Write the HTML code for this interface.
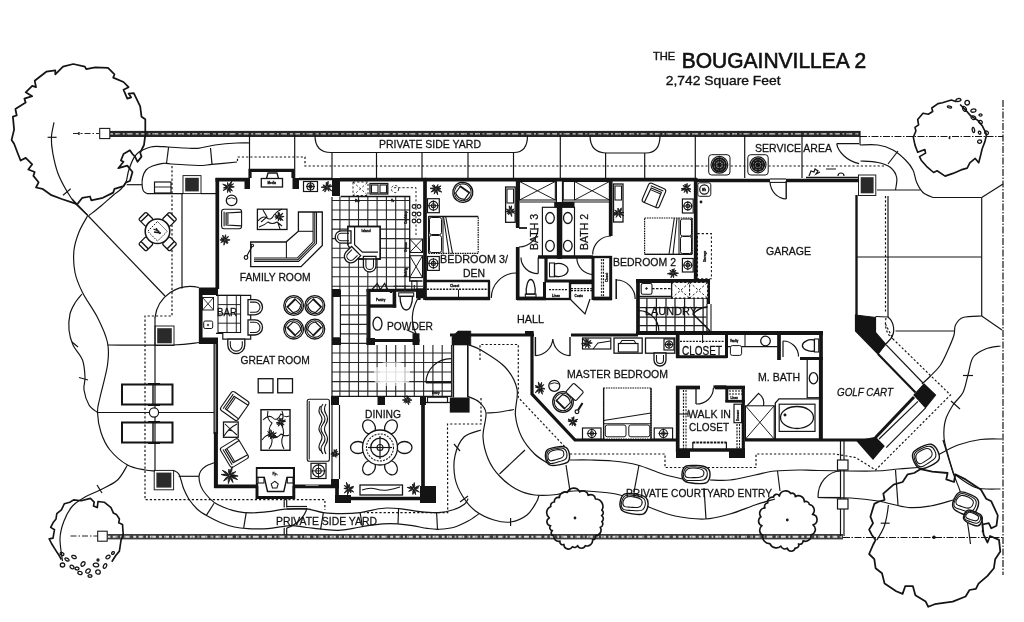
<!DOCTYPE html>
<html><head><meta charset="utf-8"><title>The Bougainvillea 2 - 2,742 Square Feet</title>
<style>
html,body{margin:0;padding:0;background:#fff;}
svg{display:block;font-family:"Liberation Sans","DejaVu Sans",sans-serif;fill:#111;}
svg text{stroke:#111;stroke-width:0.28px;}
svg{will-change:transform;}
svg line,svg path,svg polyline{stroke-linecap:butt;}
</style></head><body>
<svg width="1024" height="622" viewBox="0 0 1024 622">
<rect width="1024" height="622" fill="#fff" stroke="none"/>
<path d="M217.3 178 L217.3 289" fill="none" stroke="#141414" stroke-width="3.71" />
<path d="M215.5 179.7 L250 179.7" fill="none" stroke="#141414" stroke-width="3.71" />
<rect x="244.5" y="178" width="5.5" height="11" fill="#141414"/>
<path d="M250 178 L250 170.3 L293 170.3 L293 178" fill="none" stroke="#141414" stroke-width="3.18" />
<rect x="292.5" y="178" width="6.5" height="11" fill="#141414"/>
<line x1="299" y1="179" x2="332" y2="179" stroke="#141414" stroke-width="2.36" />
<rect x="332" y="178" width="8" height="18" fill="#141414"/>
<path d="M340 179.7 L426 179.7" fill="none" stroke="#141414" stroke-width="3.71" />
<rect x="199" y="287.5" width="19" height="7.5" fill="#141414"/>
<rect x="199" y="337.5" width="19" height="6.5" fill="#141414"/>
<path d="M200.7 288 L200.7 344" fill="none" stroke="#141414" stroke-width="3.71" />
<rect x="213.8" y="344" width="4" height="90" fill="#8a8a8a"/>
<line x1="217.1" y1="344" x2="217.1" y2="434" stroke="#141414" stroke-width="1.89" />
<line x1="214.1" y1="344" x2="214.1" y2="434" stroke="#141414" stroke-width="1.06" />
<path d="M215.9 432 L215.9 488" fill="none" stroke="#141414" stroke-width="4.03" />
<path d="M214.4 486.3 L256 486.3" fill="none" stroke="#141414" stroke-width="3.71" />
<path d="M294 486.3 L339 486.3" fill="none" stroke="#141414" stroke-width="3.71" />
<path d="M257 486 L257 468.3 L293.8 468.3 L293.8 486" fill="none" stroke="#141414" stroke-width="2.36" />
<path d="M257 486 L257 497.5 L293.8 497.5 L293.8 486" fill="none" stroke="#141414" stroke-width="2.95" />
<path d="M337 479 L337 500" fill="none" stroke="#141414" stroke-width="3.71" />
<path d="M335 498.5 L436 498.5" fill="none" stroke="#141414" stroke-width="3.71" />
<rect x="335" y="495" width="16" height="8" fill="#141414"/>
<rect x="420" y="486" width="16" height="17" fill="#141414"/>
<path d="M423 399 L423 487" fill="none" stroke="#141414" stroke-width="3.71" />
<rect x="331" y="396" width="8" height="9" fill="#141414"/>
<rect x="331" y="479" width="8" height="8" fill="#141414"/>
<path d="M425 178 L425 300" fill="none" stroke="#141414" stroke-width="3.71" />
<path d="M425 281 L490 281" fill="none" stroke="#141414" stroke-width="2.36" />
<path d="M425 298.5 L490 298.5" fill="none" stroke="#141414" stroke-width="3.71" />
<path d="M489 281 L489 300" fill="none" stroke="#141414" stroke-width="2.36" />
<path d="M425 179.7 L697 179.7" fill="none" stroke="#141414" stroke-width="3.71" />
<path d="M517.7 178 L517.7 228" fill="none" stroke="#141414" stroke-width="3.71" />
<path d="M517.7 247 L517.7 300" fill="none" stroke="#141414" stroke-width="3.71" />
<line x1="556.3" y1="181" x2="556.3" y2="202" stroke="#141414" stroke-width="1.42" />
<line x1="562.6" y1="181" x2="562.6" y2="202" stroke="#141414" stroke-width="1.42" />
<path d="M559.6 202 L559.6 259" fill="none" stroke="#141414" stroke-width="4.66" />
<path d="M610.7 178 L610.7 236" fill="none" stroke="#141414" stroke-width="3.71" />
<path d="M538 257 L593 257" fill="none" stroke="#141414" stroke-width="3.71" />
<path d="M546 257 L546 282" fill="none" stroke="#141414" stroke-width="3.18" />
<path d="M546 281 L593 281" fill="none" stroke="#141414" stroke-width="2.95" />
<path d="M593 256 L593 300" fill="none" stroke="#141414" stroke-width="2.95" />
<path d="M593 257 L612 257" fill="none" stroke="#141414" stroke-width="2.36" />
<path d="M610.7 256 L610.7 300" fill="none" stroke="#141414" stroke-width="2.95" />
<path d="M517 298.5 L546 298.5" fill="none" stroke="#141414" stroke-width="3.71" />
<path d="M544.5 282 L544.5 300" fill="none" stroke="#141414" stroke-width="2.95" />
<line x1="546" y1="299" x2="570" y2="299" stroke="#141414" stroke-width="2.36" />
<line x1="570" y1="282" x2="570" y2="300" stroke="#141414" stroke-width="2.36" />
<line x1="570" y1="283" x2="593" y2="283" stroke="#141414" stroke-width="2.36" />
<path d="M593 298.5 L612 298.5" fill="none" stroke="#141414" stroke-width="3.71" />
<path d="M695.7 178 L695.7 281" fill="none" stroke="#141414" stroke-width="3.71" />
<path d="M695 180.5 L859 180.5" fill="none" stroke="#141414" stroke-width="3.71" />
<line x1="856.5" y1="195" x2="856.5" y2="316" stroke="#141414" stroke-width="2.36" />
<path d="M855.5 315 L875.5 317.5 L875.5 332.5 L885.5 344 L878 354 L855.5 331 Z" fill="#141414" stroke="#141414" stroke-width="1.18" />
<path d="M636 281 L710 281" fill="none" stroke="#141414" stroke-width="4.24" />
<path d="M638 279 L638 335" fill="none" stroke="#141414" stroke-width="3.71" />
<path d="M708.3 279 L708.3 335" fill="none" stroke="#141414" stroke-width="3.39" />
<path d="M571 335 L638 335" fill="none" stroke="#141414" stroke-width="2.95" />
<path d="M636 333 L823 333" fill="none" stroke="#141414" stroke-width="4.24" />
<path d="M821 331 L821 441" fill="none" stroke="#141414" stroke-width="3.71" />
<path d="M677.7 333 L677.7 358" fill="none" stroke="#141414" stroke-width="3.71" />
<path d="M676 356.8 L727 356.8" fill="none" stroke="#141414" stroke-width="2.95" />
<path d="M726.5 333 L726.5 358" fill="none" stroke="#141414" stroke-width="2.95" />
<path d="M779 333 L779 360" fill="none" stroke="#141414" stroke-width="3.71" />
<path d="M800 358.5 L823 358.5" fill="none" stroke="#141414" stroke-width="2.95" />
<path d="M677.7 386 L677.7 452" fill="none" stroke="#141414" stroke-width="3.71" />
<path d="M676 387.5 L700 387.5" fill="none" stroke="#141414" stroke-width="3.71" />
<path d="M715 387.5 L745 387.5" fill="none" stroke="#141414" stroke-width="3.71" />
<path d="M743.3 386 L743.3 452" fill="none" stroke="#141414" stroke-width="3.18" />
<path d="M676 450 L745 450" fill="none" stroke="#141414" stroke-width="3.71" />
<rect x="676" y="450" width="14" height="8" fill="#141414"/>
<rect x="729" y="450" width="16" height="8" fill="#141414"/>
<path d="M574 440 L677 440" fill="none" stroke="#141414" stroke-width="3.18" />
<path d="M745 440 L873 440" fill="none" stroke="#141414" stroke-width="3.18" />
<path d="M532 334 L532 394 L575 440" fill="none" stroke="#141414" stroke-width="3.18" />
<path d="M450 335 L534 335" fill="none" stroke="#141414" stroke-width="3.18" />
<path d="M452 336.8 L458 331 L470.8 331 L470.8 345 L452 345 Z" fill="#141414" stroke="#141414" stroke-width="0.59" />
<rect x="449.8" y="397.5" width="19.8" height="15.1" fill="#141414"/>
<line x1="453.3" y1="345" x2="453.3" y2="397.5" stroke="#141414" stroke-width="1.65" />
<line x1="467.8" y1="345" x2="467.8" y2="397.5" stroke="#141414" stroke-width="1.65" />
<path d="M368.5 289 L368.5 345" fill="none" stroke="#141414" stroke-width="4.03" />
<path d="M366.6 290.4 L395 290.4" fill="none" stroke="#141414" stroke-width="3.18" />
<path d="M391 291 L391 304" fill="none" stroke="#141414" stroke-width="2.36" />
<path d="M367 340.5 L419.5 340.5" fill="none" stroke="#141414" stroke-width="3.18" />
<path d="M395 290.2 L425 290.2" fill="none" stroke="#141414" stroke-width="3.18" />
<path d="M419 291 L419 300" fill="none" stroke="#141414" stroke-width="3.18" />
<rect x="332" y="289" width="8" height="8" fill="#141414"/>
<rect x="332" y="337" width="8" height="8" fill="#141414"/>
<line x1="878" y1="354" x2="915.5" y2="392.5" stroke="#141414" stroke-width="2.12" />
<path d="M924 384 L935.5 395 L925.5 407.5 L914 395 Z" fill="#141414" stroke="#141414" stroke-width="1.18" />
<line x1="914" y1="397" x2="875.5" y2="437.5" stroke="#141414" stroke-width="2.95" />
<line x1="925.9" y1="407.7" x2="886.2" y2="447.7" stroke="#141414" stroke-width="1.18" />
<line x1="918" y1="401.4" x2="879" y2="439" stroke="#141414" stroke-width="1.18" />
<line x1="886.2" y1="344.9" x2="923" y2="383" stroke="#141414" stroke-width="1.18" />
<path d="M857 441 L875.5 437.5 L884 446 L873 459 Z" fill="#141414" stroke="#141414" stroke-width="1.18" />
<rect x="110" y="130.9" width="750" height="6.1" fill="#262626"/>
<line x1="110" y1="133.9" x2="860" y2="133.9" stroke="#dcdcdc" stroke-width="1.3" stroke-dasharray="3 2.2 5 2.5 2 2 6 3"/>
<line x1="113" y1="134.2" x2="860" y2="134.2" stroke="#444" stroke-width="0.9" stroke-dasharray="1.5 3.5 2.5 6"/>
<rect x="99.7" y="128.4" width="10.1" height="10.2" fill="none" stroke="#141414" stroke-width="1.06" />
<line x1="73" y1="133.5" x2="99" y2="133.5" stroke="#141414" stroke-width="0.94" stroke-dasharray="6 2 1.5 2"/>
<circle cx="79" cy="133.5" r="1" fill="none" stroke="#141414" stroke-width="0.94" />
<rect x="107.5" y="534" width="735.5" height="5.4" fill="#3c3c3c"/>
<line x1="107.5" y1="536.7" x2="843" y2="536.7" stroke="#dcdcdc" stroke-width="1.9" stroke-dasharray="3 2.2 5 2.5 2 2 6 3"/>
<line x1="110.5" y1="537" x2="843" y2="537" stroke="#444" stroke-width="0.9" stroke-dasharray="1.5 3.5 2.5 6"/>
<rect x="97.7" y="531.2" width="9.5" height="10" fill="none" stroke="#141414" stroke-width="1.06" />
<line x1="70.5" y1="536" x2="97.7" y2="536" stroke="#141414" stroke-width="0.94" stroke-dasharray="6 2 1.5 2"/>
<line x1="860" y1="131" x2="860" y2="145" stroke="#141414" stroke-width="1.18" />
<line x1="860" y1="136.5" x2="1003" y2="136.5" stroke="#141414" stroke-width="1.18" stroke-dasharray="7 1.5 1.5 1.5"/>
<line x1="1003" y1="100" x2="1003" y2="575" stroke="#141414" stroke-width="1.18" stroke-dasharray="7 1.5 1.5 1.5"/>
<line x1="843" y1="537.5" x2="1003" y2="537.5" stroke="#141414" stroke-width="1.18" stroke-dasharray="7 1.5 1.5 1.5"/>
<path d="M89 215.5 C91 213.9 97 209.4 101 206 C105 202.6 109.9 198 113.2 195.2 C116.5 192.4 118.9 191.2 121 189 C123.1 186.8 124.7 185 126 182 C127.3 179 127.3 174.8 128.6 170.8 C129.9 166.8 132.1 161 133.8 157.9 C135.5 154.8 137.2 153.4 139 152 C140.8 150.6 142.7 150 144.5 149.2 C146.3 148.4 148.1 147.7 150 147.2 C151.9 146.7 153 146.3 156 146.3 C159 146.3 163.2 146.7 168 147 C172.8 147.3 180 147.8 185 148 C190 148.2 193 148.8 198 148.3 C203 147.8 208.5 145.9 215 145 C221.5 144.1 231.2 143.3 237 143 C242.8 142.7 247.8 143 250 143" fill="none" stroke="#141414" stroke-width="1.18" />
<path d="M147 193.6 C146.4 193.2 144.3 192.3 143.5 191 C142.7 189.7 142.4 188.2 142.2 186 C142 183.8 141.9 180.7 142.5 178 C143.1 175.3 144.3 172 146 170 C147.7 168 149.7 167.1 152.5 166 C155.3 164.9 159.9 163.6 163 163.3 C166.1 163 165.2 163.6 171 164 C176.8 164.4 191.2 165.4 198 165.5 C204.8 165.6 205.5 165 212 164.4 C218.5 163.8 232.8 162.4 237 162" fill="none" stroke="#141414" stroke-width="1.18" />
<line x1="168.6" y1="147" x2="166.5" y2="163.5" stroke="#141414" stroke-width="1.18" />
<line x1="210.5" y1="148" x2="212" y2="164.4" stroke="#141414" stroke-width="1.18" />
<line x1="126.7" y1="184.7" x2="142" y2="184.7" stroke="#141414" stroke-width="1.18" />
<line x1="147" y1="193.6" x2="183" y2="193.6" stroke="#141414" stroke-width="1.18" />
<line x1="201" y1="193.6" x2="216" y2="193.6" stroke="#141414" stroke-width="1.18" />
<rect x="154.5" y="182" width="16.5" height="11" fill="none" stroke="#141414" stroke-width="1.18" />
<line x1="154.5" y1="187" x2="171" y2="187" stroke="#141414" stroke-width="0.94" />
<rect x="183" y="175.6" width="18" height="18" fill="none" stroke="#141414" stroke-width="0.94" />
<rect x="185.2" y="177.8" width="13.6" height="13.6" fill="#2a2a2a"/>
<line x1="249.5" y1="135" x2="249.5" y2="169" stroke="#141414" stroke-width="1.18" />
<line x1="182" y1="193.6" x2="182" y2="288.5" stroke="#141414" stroke-width="1.18" />
<path d="M237.5 161 L237.5 157 L305 157 L305 166 L697 166" fill="none" stroke="#141414" stroke-width="1.18" stroke-dasharray="2.2 2"/>
<path d="M172 166 L172 316 L145 316 L145 499.6 L324.9 499.6 L324.9 510" fill="none" stroke="#141414" stroke-width="1.18" stroke-dasharray="2.2 2"/>
<path d="M87.5 216 C86.1 218.7 81.2 226.3 79 232 C76.8 237.7 74.7 243.2 74 250 C73.3 256.8 73.6 265.4 75 272.5 C76.4 279.6 78.8 285 82.5 292.5 C86.2 300 93.3 309.2 97.5 317.5 C101.7 325.8 105.8 334.6 107.5 342.5 C109.2 350.4 108.8 355.8 107.5 365 C106.2 374.2 101.7 389.6 100 397.5 C98.3 405.4 97.3 406.7 97.5 412.5 C97.7 418.3 98.9 426.2 101 432.5 C103.1 438.8 105.6 444.6 110 450 C114.4 455.4 121.7 461.7 127.5 465 C133.3 468.3 140.4 469 145 470 C149.6 471 153.3 470.8 155 471" fill="none" stroke="#141414" stroke-width="1.18" />
<path d="M82 294 C80.8 295.5 77 299.7 75 303 C73 306.3 71 309.5 70 314 C69 318.5 68.5 324.8 69 330 C69.5 335.2 70.8 340 73 345 C75.2 350 80.5 354.6 82.5 360 C84.5 365.4 84.8 372.5 85 377.5 C85.2 382.5 83.3 385.4 84 390 C84.7 394.6 86.8 401.2 89 405 C91.2 408.8 96.1 411.2 97.5 412.5" fill="none" stroke="#141414" stroke-width="1.18" />
<line x1="72" y1="342" x2="78" y2="347" stroke="#141414" stroke-width="1.18" />
<line x1="79" y1="377.5" x2="88" y2="380" stroke="#141414" stroke-width="1.18" />
<path d="M127.5 465 C125.8 467.5 122.1 475.8 117.5 480 C112.9 484.2 105.4 487.2 100 490 C94.6 492.8 89.6 494.3 85 497 C80.4 499.7 76 502 72.5 506 C69 510 66.1 515.6 64 521 C61.9 526.4 60.2 531.8 60 538.5 C59.8 545.2 62.1 557.2 62.5 561" fill="none" stroke="#141414" stroke-width="1.18" />
<line x1="97" y1="485" x2="102" y2="493" stroke="#141414" stroke-width="1.18" />
<line x1="72" y1="199" x2="165" y2="296" stroke="#141414" stroke-width="1.18" />
<path d="M199 287.5 A35.6 35.6 0 0 0 155 317.5" fill="none" stroke="#141414" stroke-width="1.18" />
<line x1="155" y1="317" x2="155" y2="471" stroke="#141414" stroke-width="1.18" />
<rect x="155" y="326" width="19" height="19.5" fill="none" stroke="#141414" stroke-width="0.94" />
<rect x="157.2" y="328.2" width="14.6" height="15.1" fill="#2a2a2a"/>
<rect x="154.2" y="470.4" width="19.4" height="19.4" fill="none" stroke="#141414" stroke-width="0.94" />
<rect x="156.4" y="472.6" width="15" height="15" fill="#2a2a2a"/>
<path d="M107.5 345 C118.3 345 157.2 345.4 172.5 345 C187.8 344.6 194.6 342.9 199 342.5" fill="none" stroke="#141414" stroke-width="1.18" />
<line x1="97.5" y1="412.5" x2="214" y2="412.5" stroke="#141414" stroke-width="1.18" />
<rect x="122" y="384.5" width="50.5" height="20" fill="none" stroke="#141414" stroke-width="2.01" />
<line x1="153" y1="384.5" x2="153" y2="404.5" stroke="#141414" stroke-width="1.42" />
<line x1="148" y1="383.7" x2="160" y2="383.7" stroke="#141414" stroke-width="1.42" />
<line x1="148" y1="405.3" x2="160" y2="405.3" stroke="#141414" stroke-width="1.42" />
<rect x="122" y="422.5" width="50.5" height="20" fill="none" stroke="#141414" stroke-width="2.01" />
<line x1="153" y1="422.5" x2="153" y2="442.5" stroke="#141414" stroke-width="1.42" />
<line x1="148" y1="421.7" x2="160" y2="421.7" stroke="#141414" stroke-width="1.42" />
<line x1="148" y1="443.3" x2="160" y2="443.3" stroke="#141414" stroke-width="1.42" />
<circle cx="154" cy="412.5" r="4.6" fill="#fff" stroke="#141414" stroke-width="1.18" />
<path d="M173.6 470.4 C174.4 471 177.4 472.1 178.7 473.8 C180 475.5 180.3 478 181.2 480.5 C182 483 182.5 485.9 183.8 489 C185.1 492.1 186.6 495.6 188.8 499 C191.1 502.4 194.2 506.4 197.3 509.2 C200.4 512 203.5 513.8 207.4 516 C211.3 518.2 216.4 520.9 220.9 522.7 C225.4 524.5 229.9 526 234.4 527 C238.9 528 242.3 528.3 247.9 528.6 C253.5 528.9 261.1 529.1 268.1 528.6 C275.1 528.1 283.6 525.8 290 525.6 C296.4 525.4 301.1 526.9 306.7 527.5 C312.3 528.1 318.1 528.8 323.4 529.3 C328.6 529.8 333.2 530.4 338.2 530.3 C343.1 530.1 348.2 529.2 353.1 528.4 C358.1 527.6 362.9 526.4 367.9 525.6 C372.8 524.8 377.9 524.1 382.8 523.8 C387.8 523.5 392.7 523.5 397.6 523.8 C402.6 524.1 407.6 524.8 412.5 525.6 C417.4 526.4 423 527.8 427.3 528.4 C431.6 529 434.1 529.4 438.4 529.3 C442.7 529.1 448.4 528.9 453.3 527.5 C458.2 526.1 463.8 523.3 468.1 521 C472.4 518.7 477.4 514.8 479.3 513.6" fill="none" stroke="#141414" stroke-width="1.18" />
<path d="M214.1 462.8 C212.7 463.4 207.9 464.8 205.7 466.2 C203.4 467.6 201.7 469.4 200.6 471.2 C199.5 473 199 474.7 199 477.1 C199 479.5 199.5 482.8 200.6 485.6 C201.7 488.4 203.4 491.2 205.7 494 C207.9 496.8 211 500.1 214.1 502.4 C217.2 504.6 220.4 505.9 224.3 507.5 C228.2 509.1 233.3 510.8 237.8 511.7 C242.3 512.6 246.2 512.9 251.3 512.9 C256.4 512.9 262.5 512.3 268.1 511.7 C273.7 511.1 278.6 509.7 285 509.2 C291.4 508.7 300.3 508.3 306.7 508.9 C313.1 509.5 317.5 511.8 323.4 512.6 C329.3 513.4 335.8 513.6 342 513.6 C348.2 513.6 355.2 513.2 360.5 512.6 C365.8 512 369.2 510.6 373.5 509.8 C377.8 509 381.9 508.1 386.5 508 C391.1 507.9 395.7 508.3 401.3 508.9 C406.9 509.5 413.7 511.1 419.9 511.7 C426.1 512.3 432.8 512.9 438.4 512.6 C444 512.3 449 511.2 453.3 509.8 C457.6 508.4 461.9 506.2 464.4 504.3 C466.9 502.4 467.5 499.6 468.1 498.7" fill="none" stroke="#141414" stroke-width="1.18" />
<line x1="178.7" y1="476.3" x2="199" y2="476.3" stroke="#141414" stroke-width="1.18" />
<line x1="214.1" y1="503.3" x2="206.5" y2="515.1" stroke="#141414" stroke-width="1.18" />
<line x1="246.2" y1="512.6" x2="243.7" y2="527.8" stroke="#141414" stroke-width="1.18" />
<line x1="323.4" y1="512.6" x2="320.6" y2="529.3" stroke="#141414" stroke-width="1.18" />
<line x1="360.1" y1="512.6" x2="362.4" y2="526.5" stroke="#141414" stroke-width="1.18" />
<line x1="398.6" y1="508" x2="398" y2="523.8" stroke="#141414" stroke-width="1.18" />
<line x1="436.6" y1="512.6" x2="437.5" y2="529.3" stroke="#141414" stroke-width="1.18" />
<line x1="284.2" y1="498" x2="284.2" y2="507.5" stroke="#141414" stroke-width="1.18" />
<line x1="286.7" y1="498" x2="286.7" y2="507.5" stroke="#141414" stroke-width="1.18" />
<line x1="286.7" y1="506.5" x2="307" y2="506.5" stroke="#141414" stroke-width="1.18" />
<line x1="286.7" y1="509" x2="307" y2="509" stroke="#141414" stroke-width="1.18" />
<path d="M307 508 C305 516 298 524 287 528" fill="none" stroke="#141414" stroke-width="1.18" />
<line x1="284.2" y1="527.8" x2="284.2" y2="535" stroke="#141414" stroke-width="1.18" />
<line x1="286.7" y1="527.8" x2="286.7" y2="535" stroke="#141414" stroke-width="1.18" />
<path d="M469 345 C471 345.8 475 346.3 481 350 C487 353.7 499 360.5 505 367 C511 373.5 515.3 381 517 389 C518.7 397 514.6 407 515.4 415 C516.2 423 518.5 430.5 521.7 437 C524.9 443.5 530.3 449.7 534.6 454 C538.9 458.3 545.4 461.5 547.5 463" fill="none" stroke="#141414" stroke-width="1.18" />
<path d="M468 396.5 C469.8 397.4 476 399.2 479 402 C482 404.8 485.3 407.2 486 413 C486.7 418.8 482.6 429.3 483 437 C483.4 444.7 485.6 452.9 488.4 459.4 C491.1 465.9 494.9 471.1 499.5 476 C504.1 480.9 510.1 485.8 516 489 C521.9 492.2 527.8 494.1 534.6 495 C541.4 495.9 551.2 495.1 556.8 494.5 C562.4 493.9 563.1 492.1 568 491.5 C572.9 490.9 577.3 490.4 586 491 C594.7 491.6 609.3 492.2 620 495 C630.7 497.8 640.8 504 650 507.5 C659.2 511 665.8 514.1 675 516 C684.2 517.9 695.8 519.3 705 519 C714.2 518.7 721.7 516.3 730 514 C738.3 511.7 747.5 507.5 755 505 C762.5 502.5 771.7 500 775 499" fill="none" stroke="#141414" stroke-width="1.18" />
<path d="M486.5 413 C488.8 412.8 495.4 412.6 500 412 C504.6 411.4 511.7 409.9 514 409.5" fill="none" stroke="#141414" stroke-width="1.18" />
<line x1="499.5" y1="474" x2="525" y2="450" stroke="#141414" stroke-width="1.18" />
<line x1="566" y1="465" x2="570" y2="491" stroke="#141414" stroke-width="1.18" />
<path d="M481 430 C478.2 431.2 468.3 432.7 464 437 C459.7 441.3 456.5 448.9 455 455.7 C453.5 462.5 453.8 471.3 455 478 C456.2 484.7 459.1 490.5 462.5 496 C465.9 501.5 470.2 507 475.5 511 C480.8 515 488.1 518.2 494 520 C499.9 521.8 505.1 522.8 510.6 522 C516.1 521.2 522.7 518.3 527 515 C531.3 511.7 534.5 505.3 536.5 502 C538.5 498.7 538.6 496.2 539 495" fill="none" stroke="#141414" stroke-width="1.18" />
<line x1="454" y1="444" x2="460" y2="451" stroke="#141414" stroke-width="1.18" />
<line x1="460" y1="502" x2="468" y2="496" stroke="#141414" stroke-width="1.18" />
<line x1="510.6" y1="518" x2="510.6" y2="526" stroke="#141414" stroke-width="1.18" />
<path d="M480 360 L480 344.5 L518.3 344.5 L518.3 397.5 L567 449" fill="none" stroke="#141414" stroke-width="1.18" stroke-dasharray="2.2 2"/>
<path d="M481 398 L481 424 L447.5 424 L447.7 512.6 L364.2 512.6" fill="none" stroke="#141414" stroke-width="1.18" stroke-dasharray="2.2 2"/>
<path d="M570 454 L665 454 L665 467.5 L756 467.5 L756 454 L835 454 L855.5 457.5 L875.5 470 L950.5 395 L893 339 L885.5 324" fill="none" stroke="#141414" stroke-width="1.18" stroke-dasharray="2.2 2"/>
<path d="M570 460 C573.3 460 582.9 459.8 590 460 C597.1 460.2 604.6 460.2 612.5 461 C620.4 461.8 629.2 462.8 637.5 465 C645.8 467.2 655 471.7 662.5 474 C670 476.3 679.2 478.2 682.5 479" fill="none" stroke="#141414" stroke-width="1.18" />
<path d="M710 480 C713.3 480 722.5 480.8 730 480 C737.5 479.2 747.5 476.5 755 475 C762.5 473.5 767.5 471.8 775 471 C782.5 470.2 792.8 470.1 800 470 C807.2 469.9 805.8 470.3 818 470.5 C830.2 470.7 859.7 471.2 873 471 C886.3 470.8 890.5 469.6 898 469 C905.5 468.4 914.7 467.8 918 467.5" fill="none" stroke="#141414" stroke-width="1.18" />
<line x1="639" y1="465" x2="634" y2="492" stroke="#141414" stroke-width="1.18" />
<line x1="704" y1="488" x2="706" y2="519" stroke="#141414" stroke-width="1.18" />
<line x1="777.5" y1="471" x2="780" y2="491" stroke="#141414" stroke-width="1.18" />
<line x1="895.5" y1="470" x2="898" y2="505" stroke="#141414" stroke-width="1.18" />
<path d="M818 497.5 C823.4 497.6 840.5 497.4 850.5 498 C860.5 498.6 868.4 499.4 878 501 C887.6 502.6 899.2 506.7 908 507.5 C916.8 508.3 923 507.2 930.5 506 C938 504.8 949.2 501 953 500" fill="none" stroke="#141414" stroke-width="1.18" />
<line x1="840.5" y1="441" x2="840.5" y2="536" stroke="#141414" stroke-width="1.18" />
<line x1="844" y1="441" x2="844" y2="536" stroke="#141414" stroke-width="1.18" />
<rect x="837.5" y="460" width="10.5" height="10" fill="#fff" stroke="#141414" stroke-width="1.18" />
<rect x="837.5" y="499" width="10.5" height="10" fill="#fff" stroke="#141414" stroke-width="1.18" />
<path d="M818 497.5 A23 26 0 0 1 840.5 471" fill="none" stroke="#141414" stroke-width="1.18" />
<line x1="818" y1="497.5" x2="840" y2="497.5" stroke="#141414" stroke-width="1.18" />
<path d="M938 455 C941.3 453.3 950.9 447.6 958 445 C965.1 442.4 973.2 440.5 980.5 439.5 C987.8 438.5 998.4 439.1 1002 439" fill="none" stroke="#141414" stroke-width="1.18" />
<path d="M943 440 C944.7 445.4 950.1 463.8 953 472.5 C955.9 481.2 958.2 484.6 960.5 492.5 C962.8 500.4 965.3 511.4 967 520 C968.7 528.6 969.9 540 970.5 544" fill="none" stroke="#141414" stroke-width="1.18" />
<path d="M954 474 C957.6 476.2 967.8 485 975.5 487.5 C983.2 490 996.3 488.8 1000.5 489" fill="none" stroke="#141414" stroke-width="1.18" />
<path d="M1000.5 346 C998 346.5 990.1 347.1 985.5 349 C980.9 350.9 975.9 353.2 973 357.5 C970.1 361.8 969.7 369.2 968 375 C966.3 380.8 965.5 387.5 963 392.5 C960.5 397.5 955.9 400.4 953 405 C950.1 409.6 947 414.6 945.5 420 C944 425.4 943.6 431.7 944 437.5 C944.4 443.3 946.3 448.8 948 455 C949.7 461.2 953 471.7 954 475" fill="none" stroke="#141414" stroke-width="1.18" />
<line x1="963" y1="375.5" x2="973" y2="375.5" stroke="#141414" stroke-width="1.18" />
<line x1="951" y1="401" x2="960" y2="409" stroke="#141414" stroke-width="1.18" />
<path d="M981.7 316 C978.6 316.2 967.4 316 963 317.5 C958.6 319 957 322.1 955.5 325 C954 327.9 955.2 330.8 954 335 C952.8 339.2 950.2 345 948 350 C945.8 355 943.4 360.7 940.5 365 C937.6 369.3 933.6 372.8 930.5 376 C927.4 379.2 923.4 382.7 922 384" fill="none" stroke="#141414" stroke-width="1.18" />
<line x1="895.5" y1="331" x2="954" y2="331" stroke="#141414" stroke-width="1.18" />
<line x1="981.7" y1="316" x2="1002" y2="330" stroke="#141414" stroke-width="1.18" />
<g transform="translate(557.5 456) rotate(-8)">
<path d="M-12 0.9 C-12.1 -1.6 -11.6 -5.5 -9.6 -7.2 C-7.6 -8.8 -3.1 -8.9 0 -9 C3.1 -9.1 7 -9 9 -7.6 C11 -6.3 11.9 -3.4 12 -0.9 C12.1 1.6 11.6 5.5 9.6 7.2 C7.6 8.8 3.1 8.9 0 9 C-3.1 9.1 -7 9 -9 7.6 C-11 6.3 -11.9 3.4 -12 0.9 Z" fill="#fff" stroke="#141414" stroke-width="1.42" />
<path d="M-10.8 0.9 C-10.8 -1.2 -10.2 -4.7 -8.4 -6.1 C-6.6 -7.5 -2.6 -7.6 0 -7.6 C2.6 -7.7 5.8 -7.4 7.4 -6.3 C9 -5.2 9.6 -2.7 9.6 -0.9 C9.6 0.9 9 3.3 7.2 4.5 C5.4 5.7 1.4 5.8 -1.2 6.1 C-3.8 6.4 -6.8 7.2 -8.4 6.3 C-10 5.4 -10.8 3 -10.8 0.9 Z" fill="none" stroke="#141414" stroke-width="1.06" />
<path d="M-9.6 0 C-9.5 -1.4 -8.8 -3.9 -7.2 -5 C-5.6 -6 -2.1 -6.3 0 -6.3 C2.1 -6.3 4.3 -5.8 5.4 -5 C6.5 -4.1 6.8 -2.1 6.6 -0.9 C6.4 0.3 5.7 1.5 4.2 2.2 C2.7 3 -0.4 3.2 -2.4 3.4 C-4.4 3.6 -6.6 4.2 -7.8 3.6 C-9 3 -9.7 1.4 -9.6 0 Z" fill="none" stroke="#141414" stroke-width="1.06" />
</g>
<g transform="translate(696 474.5) rotate(5)">
<path d="M-14 0.9 C-14.1 -1.6 -13.5 -5.5 -11.2 -7.2 C-8.9 -8.8 -3.6 -8.9 0 -9 C3.6 -9.1 8.2 -9 10.5 -7.6 C12.8 -6.3 13.9 -3.4 14 -0.9 C14.1 1.6 13.5 5.5 11.2 7.2 C8.9 8.8 3.6 8.9 0 9 C-3.6 9.1 -8.2 9 -10.5 7.6 C-12.8 6.3 -13.9 3.4 -14 0.9 Z" fill="#fff" stroke="#141414" stroke-width="1.42" />
<path d="M-12.6 0.9 C-12.6 -1.2 -11.9 -4.7 -9.8 -6.1 C-7.7 -7.5 -3.1 -7.6 0 -7.6 C3.1 -7.7 6.8 -7.4 8.7 -6.3 C10.5 -5.2 11.2 -2.7 11.2 -0.9 C11.2 0.9 10.5 3.3 8.4 4.5 C6.3 5.7 1.6 5.8 -1.4 6.1 C-4.4 6.4 -7.9 7.2 -9.8 6.3 C-11.7 5.4 -12.6 3 -12.6 0.9 Z" fill="none" stroke="#141414" stroke-width="1.06" />
<path d="M-11.2 0 C-11.1 -1.4 -10.3 -3.9 -8.4 -5 C-6.5 -6 -2.4 -6.3 0 -6.3 C2.4 -6.3 5 -5.8 6.3 -5 C7.6 -4.1 7.9 -2.1 7.7 -0.9 C7.5 0.3 6.6 1.5 4.9 2.2 C3.1 3 -0.5 3.2 -2.8 3.4 C-5.1 3.6 -7.7 4.2 -9.1 3.6 C-10.5 3 -11.3 1.4 -11.2 0 Z" fill="none" stroke="#141414" stroke-width="1.06" />
</g>
<g transform="translate(634 504) rotate(10)">
<path d="M-14 1 C-14.1 -1.8 -13.5 -6.2 -11.2 -8 C-8.9 -9.8 -3.6 -9.9 0 -10 C3.6 -10.1 8.2 -10 10.5 -8.5 C12.8 -7 13.9 -3.8 14 -1 C14.1 1.8 13.5 6.2 11.2 8 C8.9 9.8 3.6 9.9 0 10 C-3.6 10.1 -8.2 10 -10.5 8.5 C-12.8 7 -13.9 3.8 -14 1 Z" fill="#fff" stroke="#141414" stroke-width="1.42" />
<path d="M-12.6 1 C-12.6 -1.3 -11.9 -5.2 -9.8 -6.8 C-7.7 -8.4 -3.1 -8.5 0 -8.5 C3.1 -8.5 6.8 -8.2 8.7 -7 C10.5 -5.8 11.2 -3 11.2 -1 C11.2 1 10.5 3.7 8.4 5 C6.3 6.3 1.6 6.5 -1.4 6.8 C-4.4 7.1 -7.9 8 -9.8 7 C-11.7 6 -12.6 3.3 -12.6 1 Z" fill="none" stroke="#141414" stroke-width="1.06" />
<path d="M-11.2 0 C-11.1 -1.6 -10.3 -4.3 -8.4 -5.5 C-6.5 -6.7 -2.4 -7 0 -7 C2.4 -7 5 -6.5 6.3 -5.5 C7.6 -4.5 7.9 -2.3 7.7 -1 C7.5 0.3 6.6 1.7 4.9 2.5 C3.1 3.3 -0.5 3.5 -2.8 3.8 C-5.1 4 -7.7 4.6 -9.1 4 C-10.5 3.4 -11.3 1.6 -11.2 0 Z" fill="none" stroke="#141414" stroke-width="1.06" />
</g>
<g transform="translate(925.9 456.4) rotate(-25)">
<path d="M-13 1.1 C-13.1 -1.8 -12.6 -6.5 -10.4 -8.4 C-8.2 -10.3 -3.4 -10.4 0 -10.5 C3.4 -10.6 7.6 -10.5 9.8 -8.9 C11.9 -7.3 12.9 -3.9 13 -1.1 C13.1 1.8 12.6 6.5 10.4 8.4 C8.2 10.3 3.4 10.4 0 10.5 C-3.4 10.6 -7.6 10.5 -9.8 8.9 C-11.9 7.3 -12.9 3.9 -13 1.1 Z" fill="#fff" stroke="#141414" stroke-width="1.42" />
<path d="M-11.7 1.1 C-11.7 -1.4 -11.1 -5.5 -9.1 -7.1 C-7.1 -8.8 -2.9 -8.9 0 -8.9 C2.9 -9 6.3 -8.7 8.1 -7.3 C9.8 -6 10.4 -3.2 10.4 -1.1 C10.4 1.1 9.8 3.9 7.8 5.2 C5.8 6.6 1.5 6.8 -1.3 7.1 C-4.1 7.5 -7.4 8.4 -9.1 7.3 C-10.8 6.3 -11.7 3.5 -11.7 1.1 Z" fill="none" stroke="#141414" stroke-width="1.06" />
<path d="M-10.4 0 C-10.3 -1.7 -9.5 -4.6 -7.8 -5.8 C-6.1 -7 -2.3 -7.3 0 -7.3 C2.3 -7.3 4.7 -6.8 5.9 -5.8 C7 -4.7 7.4 -2.5 7.2 -1.1 C6.9 0.4 6.2 1.8 4.5 2.6 C2.9 3.5 -0.4 3.7 -2.6 4 C-4.8 4.3 -7.2 4.9 -8.5 4.2 C-9.8 3.5 -10.5 1.7 -10.4 0 Z" fill="none" stroke="#141414" stroke-width="1.06" />
</g>
<g transform="translate(965.6 503.9) rotate(25)">
<path d="M-12.5 1.1 C-12.6 -1.8 -12.1 -6.5 -10 -8.4 C-7.9 -10.3 -3.2 -10.4 0 -10.5 C3.2 -10.6 7.3 -10.5 9.4 -8.9 C11.5 -7.3 12.4 -3.9 12.5 -1.1 C12.6 1.8 12.1 6.5 10 8.4 C7.9 10.3 3.2 10.4 0 10.5 C-3.2 10.6 -7.3 10.5 -9.4 8.9 C-11.5 7.3 -12.4 3.9 -12.5 1.1 Z" fill="#fff" stroke="#141414" stroke-width="1.42" />
<path d="M-11.2 1.1 C-11.2 -1.4 -10.6 -5.5 -8.8 -7.1 C-6.9 -8.8 -2.8 -8.9 0 -8.9 C2.8 -9 6.1 -8.7 7.8 -7.3 C9.4 -6 10 -3.2 10 -1.1 C10 1.1 9.4 3.9 7.5 5.2 C5.6 6.6 1.5 6.8 -1.2 7.1 C-4 7.5 -7.1 8.4 -8.8 7.3 C-10.4 6.3 -11.2 3.5 -11.2 1.1 Z" fill="none" stroke="#141414" stroke-width="1.06" />
<path d="M-10 0 C-9.9 -1.7 -9.2 -4.6 -7.5 -5.8 C-5.8 -7 -2.2 -7.3 0 -7.3 C2.2 -7.3 4.5 -6.8 5.6 -5.8 C6.8 -4.7 7.1 -2.5 6.9 -1.1 C6.7 0.4 5.9 1.8 4.4 2.6 C2.8 3.5 -0.4 3.7 -2.5 4 C-4.6 4.3 -6.9 4.9 -8.1 4.2 C-9.4 3.5 -10.1 1.7 -10 0 Z" fill="none" stroke="#141414" stroke-width="1.06" />
</g>
<g transform="translate(973 518) rotate(25)">
<path d="M-9.5 0.7 C-9.6 -1.1 -9.2 -4 -7.6 -5.2 C-6 -6.4 -2.5 -6.4 0 -6.5 C2.5 -6.6 5.5 -6.5 7.1 -5.5 C8.7 -4.5 9.4 -2.4 9.5 -0.7 C9.6 1.1 9.2 4 7.6 5.2 C6 6.4 2.5 6.4 0 6.5 C-2.5 6.6 -5.5 6.5 -7.1 5.5 C-8.7 4.5 -9.4 2.4 -9.5 0.7 Z" fill="#fff" stroke="#141414" stroke-width="1.42" />
<path d="M-8.6 0.7 C-8.6 -0.8 -8.1 -3.4 -6.6 -4.4 C-5.2 -5.4 -2.1 -5.5 0 -5.5 C2.1 -5.5 4.6 -5.4 5.9 -4.5 C7.2 -3.7 7.6 -2 7.6 -0.7 C7.6 0.7 7.1 2.4 5.7 3.2 C4.3 4.1 1.1 4.2 -1 4.4 C-3 4.6 -5.4 5.2 -6.6 4.5 C-7.9 3.9 -8.6 2.1 -8.6 0.7 Z" fill="none" stroke="#141414" stroke-width="1.06" />
<path d="M-7.6 0 C-7.5 -1 -7 -2.8 -5.7 -3.6 C-4.4 -4.3 -1.7 -4.5 0 -4.5 C1.7 -4.5 3.4 -4.2 4.3 -3.6 C5.1 -2.9 5.4 -1.5 5.2 -0.7 C5.1 0.2 4.5 1.1 3.3 1.6 C2.1 2.1 -0.3 2.3 -1.9 2.5 C-3.5 2.6 -5.2 3 -6.2 2.6 C-7.1 2.2 -7.7 1 -7.6 0 Z" fill="none" stroke="#141414" stroke-width="1.06" />
</g>
<path d="M888.4 505 C888.2 506.7 887.7 511.3 887 515 C886.3 518.7 885.7 522.8 884 527 C882.3 531.2 878.2 537.8 877 540" fill="none" stroke="#141414" stroke-width="1.18" />
<line x1="880.7" y1="523.2" x2="889.7" y2="523.2" stroke="#141414" stroke-width="1.18" />
<path d="M981 516.7 C981.3 517.9 982.6 521.4 982.8 524 C983 526.6 982.4 530.8 982.3 532.2" fill="none" stroke="#141414" stroke-width="1.18" />
<line x1="888" y1="196" x2="888" y2="317" stroke="#141414" stroke-width="1.18" />
<line x1="885.5" y1="196" x2="885.5" y2="312" stroke="#141414" stroke-width="1.18" stroke-dasharray="2.2 2"/>
<line x1="856" y1="257" x2="981.7" y2="257" stroke="#141414" stroke-width="1.18" />
<line x1="981.7" y1="197.5" x2="981.7" y2="316" stroke="#141414" stroke-width="1.18" />
<path d="M875.5 316.5 L888 317 C894 322 896 332 890.5 339 L878 352.5" fill="none" stroke="#141414" stroke-width="1.18" />
<path d="M886 318 C884.5 326 886 334 893 339" fill="none" stroke="#141414" stroke-width="1.18" stroke-dasharray="2.2 2"/>
<path d="M836.7 143.7 L859 143.7 M836.7 143.7 C838 152 847 161 859 163.7" fill="none" stroke="#141414" stroke-width="1.18" />
<line x1="697" y1="166" x2="885.5" y2="166" stroke="#141414" stroke-width="1.18" stroke-dasharray="2.2 2"/>
<path d="M860 145 C863 145 872.5 144.2 878 145 C883.5 145.8 888.4 147.5 893 150 C897.6 152.5 902.2 156.7 905.5 160 C908.8 163.3 911.1 166.2 913 170 C914.9 173.8 915 178.8 916.7 182.5 C918.4 186.2 920.3 190 923 192.5 C925.7 195 931.3 196.7 933 197.5" fill="none" stroke="#141414" stroke-width="1.18" />
<line x1="933" y1="197.5" x2="981.7" y2="197.5" stroke="#141414" stroke-width="1.18" />
<line x1="981.7" y1="197.5" x2="1003" y2="184" stroke="#141414" stroke-width="1.18" />
<path d="M860.5 161 C863.4 161.2 873 161.4 878 162.5 C883 163.6 887.4 165 890.5 167.5 C893.6 170 895.9 173.8 896.7 177.5 C897.5 181.2 895.7 187.9 895.5 190" fill="none" stroke="#141414" stroke-width="1.18" />
<line x1="877" y1="190" x2="920.5" y2="190" stroke="#141414" stroke-width="1.18" />
<line x1="888" y1="164" x2="898" y2="151" stroke="#141414" stroke-width="1.18" />
<rect x="858.5" y="175" width="17.3" height="20.5" fill="none" stroke="#141414" stroke-width="0.94" />
<rect x="860.7" y="177.2" width="12.9" height="16.1" fill="#2a2a2a"/>
<path d="M73.3 64 L84.9 66.6 L86.2 69.1 L95.2 67.3 L108 67.9 L114.5 74.3 L113.2 77.6 L123.5 82 L128.6 87.2 L123.5 89.7 L127.3 98.7 L131.2 97.4 L128.6 93.6 L133.8 93.1 L140.2 106.4 L141.5 116.7 L145.3 119.3 L145.3 134.7 L144 145 L140.2 152.7 L141.5 156.6 L137.6 161.8 L135 156.6 L132.5 154 L129.9 150.2 L123.5 154 L120.9 160.5 L123.5 161.8 L118.3 168.2 L127.3 165.6 L132.5 172 L129.9 181 L126 182.3 L123.5 186.2 L114.5 188.8 L113.2 192.6 L102.9 197.8 L91.3 200.3 L90 196.5 L82.3 197.8 L77.2 204.2 L73.3 202.9 L61.7 199 L51.4 195.2 L42.4 188.8 L36 187.5 L38.6 182.3 L33.4 175.9 L34.7 172 L28.3 169.5 L32.2 164.3 L25.7 157.9 L20.6 160.5 L18 154 L14.1 143.7 L11.6 139.9 L14.1 129.6 L12.9 116.7 L16.7 115.5 L15.4 109 L25.7 102.6 L24.4 98.7 L32.2 96.2 L25.7 92.3 L32.2 85.9 L36 87.2 L34.7 80.7 L46.3 71.7 L55.3 70.4 L55.3 74.3 L63 66.6 Z" fill="none" stroke="#141414" stroke-width="1.77" stroke-linejoin="round"/>
<path d="M111.8 561.8 L115.6 555.7 L119.4 551.1 L121 540.4 L123.2 534.3 L122.5 524.4 L118.7 522.8 L119.4 519 L116.4 514.4 L113.3 512.9 L111 507.6 L104.2 502.2 L98 501.5 L97.3 507.6 L93.5 506 L94.2 502.2 L90.4 498.4 L81.2 500.7 L73.6 499.9 L69.8 502.2 L64.4 503.7 L61.4 509.9 L56.8 513.7 L56 519 L53 522.8 L50.7 527.4 L54.5 529.7 L53 538.1 L49.2 538.9 L51.5 543.5 L55.3 549.6 L58.3 554.2 L61.4 559.5" fill="none" stroke="#141414" stroke-width="1.65" stroke-linejoin="round"/>
<g transform="translate(62 554) rotate(20)">
<ellipse cx="0" cy="0" rx="2" ry="1.4" fill="none" stroke="#141414" stroke-width="1.3" />
</g>
<g transform="translate(67 559.5) rotate(30)">
<ellipse cx="0" cy="0" rx="2.3" ry="1.3" fill="none" stroke="#141414" stroke-width="1.3" />
</g>
<g transform="translate(74 557) rotate(25)">
<ellipse cx="0" cy="0" rx="2.4" ry="1.5" fill="none" stroke="#141414" stroke-width="1.3" />
</g>
<g transform="translate(62.5 565) rotate(0)">
<ellipse cx="0" cy="0" rx="2.2" ry="2" fill="none" stroke="#141414" stroke-width="1.3" />
</g>
<g transform="translate(72 567) rotate(40)">
<ellipse cx="0" cy="0" rx="2.2" ry="1.6" fill="none" stroke="#141414" stroke-width="1.3" />
</g>
<g transform="translate(77 568.5) rotate(10)">
<ellipse cx="0" cy="0" rx="2" ry="1.5" fill="none" stroke="#141414" stroke-width="1.3" />
</g>
<g transform="translate(83 564) rotate(-50)">
<ellipse cx="0" cy="0" rx="2.5" ry="1.7" fill="none" stroke="#141414" stroke-width="1.3" />
</g>
<g transform="translate(80 573) rotate(20)">
<ellipse cx="0" cy="0" rx="2.2" ry="1.6" fill="none" stroke="#141414" stroke-width="1.3" />
</g>
<g transform="translate(88 571) rotate(-40)">
<ellipse cx="0" cy="0" rx="2.6" ry="1.8" fill="none" stroke="#141414" stroke-width="1.3" />
</g>
<g transform="translate(96 565) rotate(10)">
<ellipse cx="0" cy="0" rx="2.8" ry="1.8" fill="none" stroke="#141414" stroke-width="1.3" />
</g>
<g transform="translate(98 572) rotate(0)">
<ellipse cx="0" cy="0" rx="2.3" ry="2.2" fill="none" stroke="#141414" stroke-width="1.3" />
</g>
<g transform="translate(105 566) rotate(-60)">
<ellipse cx="0" cy="0" rx="2.5" ry="1.5" fill="none" stroke="#141414" stroke-width="1.3" />
</g>
<g transform="translate(108 557) rotate(-35)">
<ellipse cx="0" cy="0" rx="2.3" ry="1.5" fill="none" stroke="#141414" stroke-width="1.3" />
</g>
<g transform="translate(113 553) rotate(-50)">
<ellipse cx="0" cy="0" rx="1.6" ry="1.2" fill="none" stroke="#141414" stroke-width="1.3" />
</g>
<g transform="translate(98 560) rotate(0)">
<ellipse cx="0" cy="0" rx="1" ry="1" fill="none" stroke="#141414" stroke-width="1.3" />
</g>
<g transform="translate(90 576) rotate(0)">
<ellipse cx="0" cy="0" rx="2" ry="1.3" fill="none" stroke="#141414" stroke-width="1.3" />
</g>
<path d="M601.8 521.6 A3.3 3.3 0 0 1 600.2 527.2 A5.5 5.5 0 0 1 595.6 535.6 A3.1 3.1 0 0 1 592.5 539.7 A5.4 5.4 0 0 1 585.4 545.7 A4.2 4.2 0 0 1 577.6 545.5 A3.2 3.2 0 0 1 572.5 546.7 A4.6 4.6 0 0 1 563.9 544.4 A2.8 2.8 0 0 1 560 541.1 A4.9 4.9 0 0 1 553.8 535.8 A2.9 2.9 0 0 1 552.4 530.6 A2.9 2.9 0 0 1 550.6 525.7 A4.1 4.1 0 0 1 549.3 517.9 A6.7 6.7 0 0 1 550.8 506.4 A3.5 3.5 0 0 1 554.5 502 A3.7 3.7 0 0 1 559.3 497.6 A5.9 5.9 0 0 1 567.4 492.4 A6.7 6.7 0 0 1 579.7 491.9 A5.4 5.4 0 0 1 588.2 495.4 A4.6 4.6 0 0 1 595.4 499 A7.4 7.4 0 0 1 601.8 510.3 A3 3 0 0 1 601.6 515.6 A3.6 3.6 0 0 1 601.8 521.6 Z" fill="none" stroke="#141414" stroke-width="1.65" stroke-linejoin="round"/>
<path d="M813 524.8 A5.6 5.6 0 0 1 811.1 534.8 A5.8 5.8 0 0 1 803 540.8 A3.1 3.1 0 0 1 798.5 543.9 A3 3 0 0 1 795.1 548.1 A4 4 0 0 1 787.3 548.1 A4 4 0 0 1 780.9 546.1 A7 7 0 0 1 769.9 543.6 A6.6 6.6 0 0 1 763 535.5 A5.7 5.7 0 0 1 762 525.7 A4.9 4.9 0 0 1 761 516.8 A5.4 5.4 0 0 1 765 507.9 A3.3 3.3 0 0 1 767.8 503 A4.8 4.8 0 0 1 773.5 497.2 A3.1 3.1 0 0 1 779.4 496.1 A6.3 6.3 0 0 1 790.8 493.6 A3 3 0 0 1 795.2 496.7 A6 6 0 0 1 804.4 501.9 A3.3 3.3 0 0 1 809.3 504.5 A5.8 5.8 0 0 1 812.5 514.4 A5.3 5.3 0 0 1 813 524.8 Z" fill="none" stroke="#141414" stroke-width="1.65" stroke-linejoin="round"/>
<path d="M920.6 469.1 L932.2 471.7 L947.6 473 L946.3 479.4 L954 482 L955.3 474.3 L965.6 479.4 L981 489.7 L986.2 498.7 L991.3 501.3 L997.8 515.5 L996.5 525.7 L991.3 528.3 L988.8 523.2 L982.3 524.5 L983.6 534.7 L987.5 542.5 L990 536 L999 539.9 L1000.3 551.5 L995.2 559.2 L993.9 568.2 L987.5 575.9 L978.5 583.6 L975.9 588.8 L969.5 590 L965.6 596.5 L952.7 601.6 L943.7 602.9 L934.7 604.2 L928.3 606.8 L925.7 601.6 L915.4 595.2 L912.9 586.2 L905.2 586.2 L902.6 593.9 L896.2 591.3 L884.6 583.6 L882 573.3 L875.6 568.2 L874.3 559.2 L869.1 554 L873 545 L875.6 539.9 L871.7 534.7 L869.1 529.6 L873 523.2 L870.4 516.7 L874.3 503.9 L879.4 501.3 L884.6 500 L883.3 493.6 L893.6 484.6 L902.6 482 L907.7 474.3 L914.2 473 Z" fill="none" stroke="#141414" stroke-width="1.77" stroke-linejoin="round"/>
<path d="M960.1 104.5 L965.4 109.8 L970.7 115.9 L977.8 120.4 L982.2 125.7 L986.6 134.5 L984.9 141.6 L982.2 148.7 L980.5 155.7 L978.7 162.8 L975.2 158.4 L969.8 162.8 L967.2 168.1 L961 169.9 L953 173.4 L945.1 176.1 L937.1 170.8 L933.6 172.5 L926.5 166.3 L921.2 160.2 L919.5 156.6 L925.6 153.1 L924.8 149.5 L917.7 152.2 L915 145.1 L913.3 137.2 L915.9 131 L915 127.4 L918.6 124.8 L917.7 119.5 L923 113.3 L928.3 114.2 L932.7 111.5 L931.8 108 L938 103.6 L942.4 102.7 L951.3 100 L956.6 101.8" fill="none" stroke="#141414" stroke-width="1.65" stroke-linejoin="round"/>
<g transform="translate(958.4 100) rotate(-15)">
<ellipse cx="0" cy="0" rx="2.6" ry="1.4" fill="none" stroke="#141414" stroke-width="1.3" />
</g>
<g transform="translate(967.2 102.7) rotate(0)">
<ellipse cx="0" cy="0" rx="2.3" ry="2.3" fill="none" stroke="#141414" stroke-width="1.3" />
</g>
<g transform="translate(964.5 108.9) rotate(60)">
<ellipse cx="0" cy="0" rx="2.6" ry="1.7" fill="none" stroke="#141414" stroke-width="1.3" />
</g>
<g transform="translate(973.4 110.6) rotate(-10)">
<ellipse cx="0" cy="0" rx="2.6" ry="1.6" fill="none" stroke="#141414" stroke-width="1.3" />
</g>
<g transform="translate(973.4 117.7) rotate(20)">
<ellipse cx="0" cy="0" rx="2.4" ry="1.7" fill="none" stroke="#141414" stroke-width="1.3" />
</g>
<g transform="translate(980.5 115) rotate(0)">
<ellipse cx="0" cy="0" rx="1.5" ry="1.2" fill="none" stroke="#141414" stroke-width="1.3" />
</g>
<g transform="translate(980.5 122) rotate(40)">
<ellipse cx="0" cy="0" rx="2" ry="1.5" fill="none" stroke="#141414" stroke-width="1.3" />
</g>
<g transform="translate(973.4 130) rotate(80)">
<ellipse cx="0" cy="0" rx="2.6" ry="1.2" fill="none" stroke="#141414" stroke-width="1.3" />
</g>
<g transform="translate(979.6 132.7) rotate(70)">
<ellipse cx="0" cy="0" rx="1.6" ry="1.2" fill="none" stroke="#141414" stroke-width="1.3" />
</g>
<g transform="translate(986.6 132.7) rotate(30)">
<ellipse cx="0" cy="0" rx="2" ry="1.6" fill="none" stroke="#141414" stroke-width="1.3" />
</g>
<g transform="translate(979.6 141.6) rotate(0)">
<ellipse cx="0" cy="0" rx="2" ry="1.7" fill="none" stroke="#141414" stroke-width="1.3" />
</g>
<g transform="translate(949.5 107) rotate(10)">
<ellipse cx="0" cy="0" rx="2.2" ry="1" fill="none" stroke="#141414" stroke-width="1.3" />
</g>
<circle cx="575" cy="518" r="0.8" fill="#141414" stroke="#141414" stroke-width="1.18" />
<circle cx="787.3" cy="520" r="0.8" fill="#141414" stroke="#141414" stroke-width="1.18" />
<circle cx="934" cy="537.3" r="1.2" fill="#141414" stroke="#141414" stroke-width="1.18" />
<circle cx="949.5" cy="138" r="0.7" fill="#141414" stroke="#141414" stroke-width="0.94" />
<path d="M54 122.4 C53.6 124.9 51.6 132.2 51.4 137.3 C51.2 142.4 51.6 146.7 52.7 152.7 C53.8 158.7 55.5 166.9 57.9 173.3 C60.3 179.7 63.9 186.2 66.9 191.3 C69.9 196.5 72.5 200.2 75.9 204.2 C79.3 208.1 85.6 213.2 87.5 215" fill="none" stroke="#141414" stroke-width="1.18" />
<line x1="47.6" y1="137.3" x2="56.6" y2="137.3" stroke="#141414" stroke-width="1.18" />
<line x1="63" y1="195.2" x2="70.7" y2="188.8" stroke="#141414" stroke-width="1.18" />
<line x1="294.7" y1="135" x2="294.7" y2="178" stroke="#141414" stroke-width="1.18" />
<path d="M315 135.5 C315 146 320 152.5 331 152.5 L514 152.5 C523 152.5 527.5 146 527.5 135.5" fill="none" stroke="#141414" stroke-width="1.18" />
<line x1="332" y1="152.5" x2="332" y2="178" stroke="#141414" stroke-width="1.18" />
<line x1="376.5" y1="152.5" x2="376.5" y2="178" stroke="#141414" stroke-width="1.18" />
<line x1="422" y1="152.5" x2="422" y2="178" stroke="#141414" stroke-width="1.18" />
<line x1="468" y1="152.5" x2="468" y2="178" stroke="#141414" stroke-width="1.18" />
<line x1="513.5" y1="152.5" x2="513.5" y2="178" stroke="#141414" stroke-width="1.18" />
<line x1="560.3" y1="135" x2="560.3" y2="178" stroke="#141414" stroke-width="1.18" />
<path d="M590 135.5 C590 147 596 153 607 153 L646 153 C655 153 660 147 660 135.5" fill="none" stroke="#141414" stroke-width="1.18" />
<line x1="605.6" y1="153" x2="605.6" y2="178" stroke="#141414" stroke-width="1.18" />
<line x1="644.7" y1="153" x2="644.7" y2="178" stroke="#141414" stroke-width="1.18" />
<line x1="695.3" y1="135" x2="695.3" y2="178" stroke="#141414" stroke-width="1.18" />
<line x1="744.7" y1="135" x2="744.7" y2="178" stroke="#141414" stroke-width="1.18" />
<line x1="802" y1="135" x2="802" y2="178" stroke="#141414" stroke-width="1.18" />
<rect x="708.7" y="154.7" width="21.3" height="20.3" rx="3" fill="#fff" stroke="#141414" stroke-width="1"/>
<circle cx="719.4" cy="164.8" r="8.4" fill="#fff" stroke="#141414" stroke-width="1.18" />
<circle cx="719.4" cy="164.8" r="6.6" fill="#bbb" stroke="#141414" stroke-width="1.89" />
<circle cx="719.4" cy="164.8" r="4.4" fill="#888" stroke="#141414" stroke-width="1.77" />
<circle cx="719.4" cy="164.8" r="1.6" fill="#141414" stroke="#141414" stroke-width="1.18" />
<line x1="721.4" y1="164.8" x2="726.8" y2="164.8" stroke="#141414" stroke-width="0.94" />
<line x1="720.8" y1="166.3" x2="724.6" y2="170.1" stroke="#141414" stroke-width="0.94" />
<line x1="719.4" y1="166.8" x2="719.4" y2="172.3" stroke="#141414" stroke-width="0.94" />
<line x1="717.9" y1="166.3" x2="714.1" y2="170.1" stroke="#141414" stroke-width="0.94" />
<line x1="717.4" y1="164.8" x2="711.9" y2="164.8" stroke="#141414" stroke-width="0.94" />
<line x1="717.9" y1="163.4" x2="714.1" y2="159.6" stroke="#141414" stroke-width="0.94" />
<line x1="719.4" y1="162.8" x2="719.4" y2="157.4" stroke="#141414" stroke-width="0.94" />
<line x1="720.8" y1="163.4" x2="724.6" y2="159.6" stroke="#141414" stroke-width="0.94" />
<rect x="747.8" y="154.7" width="20.4" height="20.3" rx="3" fill="#fff" stroke="#141414" stroke-width="1"/>
<circle cx="758" cy="164.8" r="8" fill="#fff" stroke="#141414" stroke-width="1.18" />
<circle cx="758" cy="164.8" r="6.2" fill="#bbb" stroke="#141414" stroke-width="1.89" />
<circle cx="758" cy="164.8" r="4" fill="#888" stroke="#141414" stroke-width="1.77" />
<circle cx="758" cy="164.8" r="1.6" fill="#141414" stroke="#141414" stroke-width="1.18" />
<line x1="760" y1="164.8" x2="765" y2="164.8" stroke="#141414" stroke-width="0.94" />
<line x1="759.4" y1="166.3" x2="762.9" y2="169.8" stroke="#141414" stroke-width="0.94" />
<line x1="758" y1="166.8" x2="758" y2="171.9" stroke="#141414" stroke-width="0.94" />
<line x1="756.6" y1="166.3" x2="753.1" y2="169.8" stroke="#141414" stroke-width="0.94" />
<line x1="756" y1="164.8" x2="751" y2="164.8" stroke="#141414" stroke-width="0.94" />
<line x1="756.6" y1="163.4" x2="753.1" y2="159.9" stroke="#141414" stroke-width="0.94" />
<line x1="758" y1="162.8" x2="758" y2="157.8" stroke="#141414" stroke-width="0.94" />
<line x1="759.4" y1="163.4" x2="762.9" y2="159.9" stroke="#141414" stroke-width="0.94" />
<path d="M809 176 l2 -5 l3 1 l1 -3 l3 2 l-2 3 l4 -2 M826 169 h10 M838 176 a3 3 0 0 1 6 0" fill="none" stroke="#141414" stroke-width="1.18" />
<line x1="806" y1="177.5" x2="858" y2="177.5" stroke="#141414" stroke-width="1.42" />
<rect x="261.3" y="178.5" width="21.2" height="8.5" fill="#fff" stroke="#141414" stroke-width="1.3" />
<path d="M266.5 178.5 L268 173 L277 173 L278.5 178.5" fill="none" stroke="#141414" stroke-width="1.3" />
<text x="267.5" y="184.2" font-size="3" font-weight="bold" >Media</text>
<path d="M228.5 187 Q231.4 188.1 234.3 186.9 Q231.4 185.8 228.5 187 M228.5 187 Q229.6 189.8 232.4 191.1 Q231.3 188.3 228.5 187 M228.5 187 Q228.3 190.2 230.3 192.6 Q230.5 189.4 228.5 187 M228.5 187 Q226.9 189.6 227.5 192.6 Q229.1 190 228.5 187 M228.5 187 Q225.1 187.7 223.1 190.5 Q226.5 189.8 228.5 187 M228.5 187 Q225.7 186.4 223.4 187.9 Q226.1 188.5 228.5 187 M228.5 187 Q226.2 184.4 222.7 184.2 Q225 186.8 228.5 187 M228.5 187 Q228.9 184.5 227.5 182.5 Q227 185 228.5 187 M228.5 187 Q231.4 184.7 231.9 181.1 Q229.1 183.4 228.5 187 M228.5 187 Q231.7 186.4 233.6 183.8 Q230.4 184.4 228.5 187 " fill="#222" stroke="#141414" stroke-width="0.83" />
<circle cx="228.5" cy="187" r="0.9" fill="#999" stroke="#141414" stroke-width="0.71" />
<circle cx="231.6" cy="200.4" r="5.3" fill="#fff" stroke="#141414" stroke-width="1.3" />
<path d="M227.5 199 q4 -2.5 8 0" fill="none" stroke="#141414" stroke-width="0.94" />
<g transform="translate(231.6 219) rotate(0)">
<rect x="-10" y="-9.8" width="20" height="19.5" rx="2.5" fill="#fff" stroke="#141414" stroke-width="1.1"/>
<path d="M10 -6.8 L-5.5 -6 L-5.5 6 L10 6.8" fill="none" stroke="#141414" stroke-width="1.18" />
<path d="M-3.7 -5.5 L-3.7 5.5 M-7.5 -7.2 L-7.5 7.2" fill="none" stroke="#141414" stroke-width="1.06" />
</g>
<path d="M225 240 Q227.5 241 230.1 239.9 Q227.5 238.9 225 240 M225 240 Q226 242 228.1 242.6 Q227.1 240.6 225 240 M225 240 Q225.3 242.4 227.3 243.9 Q227 241.5 225 240 M225 240 Q223.3 242.4 223.9 245.2 Q225.5 242.9 225 240 M225 240 Q222.3 240.4 220.8 242.6 Q223.4 242.2 225 240 M225 240 Q222.5 238.9 219.9 239.9 Q222.4 241 225 240 M225 240 Q223.4 238.1 220.9 237.9 Q222.5 239.8 225 240 M225 240 Q224.8 237 222.5 235 Q222.7 238 225 240 M225 240 Q226.4 237.5 225.6 234.7 Q224.2 237.2 225 240 M225 240 Q227.5 238.9 228.5 236.3 Q226 237.4 225 240 " fill="#222" stroke="#141414" stroke-width="0.83" />
<circle cx="225" cy="240" r="0.9" fill="#999" stroke="#141414" stroke-width="0.71" />
<rect x="257.4" y="209.2" width="29.6" height="20.3" fill="#fff" stroke="#141414" stroke-width="1.3" />
<path d="M258 221 q5 -6 9 -3 t7 -3 q3 -4 8 -6 M259 227 q6 -2 9 -5 q4 3 9 0 l5 4 M263 210 l4 7 l-6 5 M280 229 l-2 -6" fill="none" stroke="#141414" stroke-width="1.06" />
<path d="M279 217 Q281.7 217.8 284.1 216.5 Q281.4 215.7 279 217 M279 217 Q280.3 219.6 283.1 220.5 Q281.8 217.9 279 217 M279 217 Q279.1 219.3 280.8 220.8 Q280.8 218.5 279 217 M279 217 Q277.8 218.9 278.3 221.1 Q279.6 219.2 279 217 M279 217 Q276.8 217.2 275.5 219 Q277.7 218.8 279 217 M279 217 Q276.9 216.1 274.8 216.9 Q276.9 217.9 279 217 M279 217 Q277.5 215 275 214.6 Q276.5 216.7 279 217 M279 217 Q279.6 214.4 278.2 212.1 Q277.6 214.7 279 217 M279 217 Q280.1 215 279.4 212.7 Q278.3 214.8 279 217 M279 217 Q281.7 215.9 282.9 213.1 Q280.1 214.3 279 217 " fill="#222" stroke="#141414" stroke-width="0.83" />
<circle cx="279" cy="217" r="0.9" fill="#999" stroke="#141414" stroke-width="0.71" />
<path d="M253.3 242 L286 242 L298.4 231.3 L298.4 212 L322.3 212 L322.3 245.5 L301 266.7 L250.7 266.7 L250.7 242 Z" fill="#fff" stroke="#141414" stroke-width="1.3" />
<path d="M316.5 212 L316.5 243.3 L298.6 261.4 L254 261.4" fill="none" stroke="#141414" stroke-width="1.06" />
<path d="M314.8 212 L314.8 242.6 L297.9 259.7 L254 259.7" fill="none" stroke="#141414" stroke-width="1.06" />
<path d="M313.1 212 L313.1 241.9 L297.2 258 L254 258" fill="none" stroke="#141414" stroke-width="1.06" />
<line x1="298.4" y1="231.3" x2="313" y2="231.3" stroke="#141414" stroke-width="1.06" />
<line x1="286.4" y1="242" x2="286.4" y2="258" stroke="#141414" stroke-width="1.06" />
<circle cx="246" cy="257.5" r="1.8" fill="none" stroke="#141414" stroke-width="1.18" />
<line x1="246.8" y1="256" x2="252" y2="246.5" stroke="#141414" stroke-width="1.18" />
<circle cx="252.4" cy="245.5" r="1.2" fill="none" stroke="#141414" stroke-width="1.06" />
<rect x="303.5" y="181.5" width="14" height="10" fill="#fff" stroke="#141414" stroke-width="1.18" />
<circle cx="310.5" cy="186.5" r="3.5" fill="none" stroke="#141414" stroke-width="1.18" />
<circle cx="310.5" cy="186.5" r="1.6" fill="none" stroke="#141414" stroke-width="1.06" />
<line x1="306" y1="186.5" x2="315" y2="186.5" stroke="#141414" stroke-width="0.94" />
<line x1="310.5" y1="182" x2="310.5" y2="191" stroke="#141414" stroke-width="0.94" />
<path d="M327 187 Q330 187.7 332.6 186 Q329.6 185.4 327 187 M327 187 Q328.6 189.9 331.8 191 Q330.2 188 327 187 M327 187 Q327 189.5 328.9 191.3 Q328.9 188.7 327 187 M327 187 Q324.8 189.1 324.7 192.1 Q326.9 190 327 187 M327 187 Q324.1 188 322.7 190.7 Q325.6 189.7 327 187 M327 187 Q324 186 321.2 187.3 Q324.1 188.3 327 187 M327 187 Q325.4 185.1 322.9 184.9 Q324.5 186.9 327 187 M327 187 Q327.7 184.4 326.3 182.1 Q325.6 184.7 327 187 M327 187 Q328.8 184.4 328.2 181.2 Q326.4 183.9 327 187 M327 187 Q329.4 186.6 330.7 184.6 Q328.4 185 327 187 " fill="#222" stroke="#141414" stroke-width="0.83" />
<circle cx="327" cy="187" r="0.9" fill="#999" stroke="#141414" stroke-width="0.71" />
<path d="M216 295.4 L250.7 295.4 L250.7 339.2 L222.8 339.2 L222.8 333.3 L216 333.3" fill="#fff" stroke="#141414" stroke-width="1.18" />
<rect x="218" y="295.4" width="22.6" height="37.1" fill="none" stroke="#141414" stroke-width="1.06" />
<line x1="227" y1="295.4" x2="227" y2="332.5" stroke="#141414" stroke-width="0.94" />
<line x1="236.3" y1="295.4" x2="236.3" y2="332.5" stroke="#141414" stroke-width="0.94" />
<line x1="218" y1="304.6" x2="240.6" y2="304.6" stroke="#141414" stroke-width="0.94" />
<line x1="218" y1="314" x2="240.6" y2="314" stroke="#141414" stroke-width="0.94" />
<line x1="218" y1="323.2" x2="240.6" y2="323.2" stroke="#141414" stroke-width="0.94" />
<rect x="202.5" y="297.5" width="11" height="12.5" fill="none" stroke="#141414" stroke-width="0.94" />
<line x1="202.5" y1="297.5" x2="213.5" y2="310" stroke="#141414" stroke-width="0.85" />
<line x1="202.5" y1="310" x2="213.5" y2="297.5" stroke="#141414" stroke-width="0.85" />
<rect x="203.7" y="321" width="9" height="7.5" rx="1.5" fill="#fff" stroke="#141414" stroke-width="1"/>
<circle cx="208" cy="325" r="0.8" fill="none" stroke="#141414" stroke-width="0.83" />
<g transform="translate(255.2 307.2) rotate(0)">
<path d="M-7.2 -7.6 L-0.3 -7.6 A7.6 7.6 0 0 1 -0.3 7.6 L-7.2 7.6 Z" fill="#fff" stroke="#141414" stroke-width="1.3" />
<path d="M-5.2 -5.1 L-0.3 -5.1 A5.1 5.1 0 0 1 -0.3 5.1 L-5.2 5.1" fill="none" stroke="#141414" stroke-width="1.06" />
</g>
<g transform="translate(255.2 327.4) rotate(0)">
<path d="M-7.2 -7.6 L-0.3 -7.6 A7.6 7.6 0 0 1 -0.3 7.6 L-7.2 7.6 Z" fill="#fff" stroke="#141414" stroke-width="1.3" />
<path d="M-5.2 -5.1 L-0.3 -5.1 A5.1 5.1 0 0 1 -0.3 5.1 L-5.2 5.1" fill="none" stroke="#141414" stroke-width="1.06" />
</g>
<g transform="translate(236.3 346.4) rotate(90)">
<path d="M-7.2 -8.5 L-1.3 -8.5 A8.5 8.5 0 0 1 -1.3 8.5 L-7.2 8.5 Z" fill="#fff" stroke="#141414" stroke-width="1.3" />
<path d="M-5.2 -6 L-1.3 -6 A6 6 0 0 1 -1.3 6 L-5.2 6" fill="none" stroke="#141414" stroke-width="1.06" />
</g>
<g transform="translate(293.7 305.5) rotate(45)">
<circle cx="0" cy="0" r="9.9" fill="#fff" stroke="#141414" stroke-width="1.3" />
<circle cx="0" cy="0" r="8.3" fill="none" stroke="#141414" stroke-width="1.06" />
<path d="M-3.4 -5.5 L4.6 -5.5 Q8.5 0 4.6 5.5 L-3.4 5.5" fill="#fff" stroke="#141414" stroke-width="1.18" />
<line x1="-3.4" y1="-6.1" x2="-3.4" y2="6.1" stroke="#141414" stroke-width="1.89" />
</g>
<g transform="translate(314.8 305.5) rotate(135)">
<circle cx="0" cy="0" r="9.9" fill="#fff" stroke="#141414" stroke-width="1.3" />
<circle cx="0" cy="0" r="8.3" fill="none" stroke="#141414" stroke-width="1.06" />
<path d="M-3.4 -5.5 L4.6 -5.5 Q8.5 0 4.6 5.5 L-3.4 5.5" fill="#fff" stroke="#141414" stroke-width="1.18" />
<line x1="-3.4" y1="-6.1" x2="-3.4" y2="6.1" stroke="#141414" stroke-width="1.89" />
</g>
<g transform="translate(293.7 329.1) rotate(-45)">
<circle cx="0" cy="0" r="9.9" fill="#fff" stroke="#141414" stroke-width="1.3" />
<circle cx="0" cy="0" r="8.3" fill="none" stroke="#141414" stroke-width="1.06" />
<path d="M-3.4 -5.5 L4.6 -5.5 Q8.5 0 4.6 5.5 L-3.4 5.5" fill="#fff" stroke="#141414" stroke-width="1.18" />
<line x1="-3.4" y1="-6.1" x2="-3.4" y2="6.1" stroke="#141414" stroke-width="1.89" />
</g>
<g transform="translate(314.8 329.1) rotate(-135)">
<circle cx="0" cy="0" r="9.9" fill="#fff" stroke="#141414" stroke-width="1.3" />
<circle cx="0" cy="0" r="8.3" fill="none" stroke="#141414" stroke-width="1.06" />
<path d="M-3.4 -5.5 L4.6 -5.5 Q8.5 0 4.6 5.5 L-3.4 5.5" fill="#fff" stroke="#141414" stroke-width="1.18" />
<line x1="-3.4" y1="-6.1" x2="-3.4" y2="6.1" stroke="#141414" stroke-width="1.89" />
</g>
<rect x="258.2" y="378.7" width="14.8" height="14.1" fill="none" stroke="#141414" stroke-width="1.3" />
<rect x="277.7" y="378.7" width="14.8" height="14.1" fill="none" stroke="#141414" stroke-width="1.3" />
<g transform="translate(234.7 406) rotate(35)">
<rect x="-10.5" y="-11.4" width="21" height="22.8" rx="2.5" fill="#fff" stroke="#141414" stroke-width="1.1"/>
<path d="M10.5 -8.4 L-6 -7.6 L-6 7.6 L10.5 8.4" fill="none" stroke="#141414" stroke-width="1.18" />
<path d="M-4.2 -7.2 L-4.2 7.2 M-8 -8.9 L-8 8.9" fill="none" stroke="#141414" stroke-width="1.06" />
</g>
<g transform="translate(234.4 453) rotate(-31)">
<rect x="-10.5" y="-11.4" width="21" height="22.8" rx="2.5" fill="#fff" stroke="#141414" stroke-width="1.1"/>
<path d="M10.5 -8.4 L-6 -7.6 L-6 7.6 L10.5 8.4" fill="none" stroke="#141414" stroke-width="1.18" />
<path d="M-4.2 -7.2 L-4.2 7.2 M-8 -8.9 L-8 8.9" fill="none" stroke="#141414" stroke-width="1.06" />
</g>
<rect x="223.5" y="422" width="14.7" height="15.3" fill="#fff" stroke="#141414" stroke-width="1.3" />
<path d="M224 436 q5 -8 13 -12 M225 424 q6 6 12 11 M228 430 l5 1" fill="none" stroke="#141414" stroke-width="1.06" />
<rect x="261" y="409.7" width="29" height="40.6" fill="#fff" stroke="#141414" stroke-width="1.42" />
<path d="M263 420 q6 -6 10 -2 t8 -4 q4 4 8 2 M262 440 q5 -7 9 -4 q5 4 10 -2 q4 3 8 1 M268 411 q-2 8 4 12 q-5 7 -1 13 q3 6 -2 13 M282 411 q3 7 -2 12 q5 6 3 13 q-3 6 1 13" fill="none" stroke="#141414" stroke-width="1.06" />
<path d="M280.5 422 Q283.2 422.7 285.6 421.2 Q282.9 420.6 280.5 422 M280.5 422 Q281.7 424.3 284.1 425 Q283 422.7 280.5 422 M280.5 422 Q280.6 424.9 282.8 426.8 Q282.6 423.9 280.5 422 M280.5 422 Q278.5 423.7 278.4 426.3 Q280.4 424.6 280.5 422 M280.5 422 Q278.2 422.5 277.1 424.5 Q279.3 424 280.5 422 M280.5 422 Q278.1 421.5 276.1 423 Q278.5 423.4 280.5 422 M280.5 422 Q279.5 420.1 277.4 419.6 Q278.4 421.5 280.5 422 M280.5 422 Q281 419.8 279.7 417.9 Q279.2 420.1 280.5 422 M280.5 422 Q281.7 420.3 281.2 418.2 Q280 420 280.5 422 M280.5 422 Q283.3 422 285.3 419.9 Q282.5 420 280.5 422 " fill="#222" stroke="#141414" stroke-width="0.83" />
<circle cx="280.5" cy="422" r="0.9" fill="#999" stroke="#141414" stroke-width="0.71" />
<path d="M272 435 Q273.8 436.3 275.9 435.8 Q274.2 434.5 272 435 M272 435 Q274.1 437.2 277.3 437.3 Q275.1 435.1 272 435 M272 435 Q272.1 437.2 273.7 438.6 Q273.7 436.4 272 435 M272 435 Q270.3 436.7 270.3 439.1 Q272.1 437.4 272 435 M272 435 Q269.7 435.1 268.2 436.9 Q270.5 436.8 272 435 M272 435 Q270 433.6 267.7 434.1 Q269.7 435.5 272 435 M272 435 Q270.5 432.4 267.6 431.5 Q269.1 434.1 272 435 M272 435 Q272.5 432 270.7 429.6 Q270.2 432.5 272 435 M272 435 Q273.6 433.6 273.5 431.5 Q272 432.9 272 435 M272 435 Q274.7 434.8 276.4 432.8 Q273.7 433 272 435 " fill="#222" stroke="#141414" stroke-width="0.83" />
<circle cx="272" cy="435" r="0.9" fill="#999" stroke="#141414" stroke-width="0.71" />
<rect x="307.2" y="399.3" width="22.2" height="61.9" rx="2" fill="#fff" stroke="#141414" stroke-width="1.1"/>
<line x1="309.2" y1="401" x2="309.2" y2="459.5" stroke="#141414" stroke-width="1.06" />
<path d="M323 404 q-4 5 0 10 t0 10 t0 10 t0 10 t0 10 M326 404 q-3 5 0 10 t0 10 t0 10 t0 10 t0 10 M320.5 406 q-3 5 0 9 t0 9 t0 9 t0 9 t0 9" fill="none" stroke="#141414" stroke-width="1.18" />
<path d="M335 453.5 Q337.3 455 340 454.4 Q337.7 452.9 335 453.5 M335 453.5 Q335.6 455.3 337.5 456 Q336.8 454.2 335 453.5 M335 453.5 Q334.7 455.7 336.1 457.5 Q336.4 455.2 335 453.5 M335 453.5 Q333.6 454.9 333.8 456.9 Q335.2 455.5 335 453.5 M335 453.5 Q332.9 454.3 332 456.4 Q334.1 455.6 335 453.5 M335 453.5 Q332.8 452.8 330.8 454 Q333 454.7 335 453.5 M335 453.5 Q333.7 452 331.8 452.1 Q333.1 453.5 335 453.5 M335 453.5 Q335.4 451.3 334.1 449.5 Q333.7 451.7 335 453.5 M335 453.5 Q336.7 451.6 336.5 449 Q334.8 451 335 453.5 M335 453.5 Q336.9 453 337.7 451.3 Q335.8 451.8 335 453.5 " fill="#222" stroke="#141414" stroke-width="0.83" />
<circle cx="335" cy="453.5" r="0.9" fill="#999" stroke="#141414" stroke-width="0.71" />
<rect x="311" y="463.3" width="15" height="15.2" fill="#fff" stroke="#141414" stroke-width="1.18" />
<circle cx="318.5" cy="470.9" r="6" fill="none" stroke="#141414" stroke-width="1.18" />
<circle cx="318.5" cy="470.9" r="2.7" fill="none" stroke="#141414" stroke-width="1.06" />
<line x1="311.5" y1="470.9" x2="325.5" y2="470.9" stroke="#141414" stroke-width="0.94" />
<line x1="318.5" y1="463.9" x2="318.5" y2="477.9" stroke="#141414" stroke-width="0.94" />
<path d="M229.5 475.3 Q233.7 477.3 238.1 476.1 Q234 474.1 229.5 475.3 M229.5 475.3 Q232.8 479 237.6 479.6 Q234.4 475.9 229.5 475.3 M229.5 475.3 Q229.9 479.6 233 482.6 Q232.7 478.3 229.5 475.3 M229.5 475.3 Q227.4 479.3 228.4 483.6 Q230.5 479.7 229.5 475.3 M229.5 475.3 Q225.5 477.1 223.6 481.1 Q227.7 479.3 229.5 475.3 M229.5 475.3 Q225.5 473.3 221.1 474.5 Q225.1 476.5 229.5 475.3 M229.5 475.3 Q226.8 471.5 222.3 470.3 Q225 474.2 229.5 475.3 M229.5 475.3 Q230.4 472 228.9 469 Q227.9 472.3 229.5 475.3 M229.5 475.3 Q232.5 471.5 232.4 466.7 Q229.3 470.5 229.5 475.3 M229.5 475.3 Q233.4 474.7 235.9 471.6 Q232 472.2 229.5 475.3 " fill="#222" stroke="#141414" stroke-width="0.83" />
<circle cx="229.5" cy="475.3" r="0.9" fill="#999" stroke="#141414" stroke-width="0.71" />
<rect x="257.5" y="469" width="35.3" height="14" fill="#fff"/>
<path d="M257 477.4 L264.3 477.4 L267.5 491.5 L283.8 491.5 L287 477.4 L293 477.4" fill="none" stroke="#141414" stroke-width="1.42" />
<rect x="258" y="477.4" width="6" height="5.6" fill="none" stroke="#141414" stroke-width="1.06" />
<rect x="287.3" y="477.4" width="5.7" height="5.6" fill="none" stroke="#141414" stroke-width="1.06" />
<path d="M274.7 481.3 L278.2 483.9 L276.9 488 L272.5 488 L271.2 483.9 Z" fill="none" stroke="#141414" stroke-width="1.06" />
<text x="272.5" y="475.2" font-size="3.4" font-weight="bold" >Fp.</text>
<line x1="305.5" y1="485" x2="318.5" y2="485" stroke="#999" stroke-width="1.77" />
<line x1="332" y1="405" x2="332" y2="479" stroke="#141414" stroke-width="1.18" />
<line x1="339.5" y1="405" x2="339.5" y2="479" stroke="#141414" stroke-width="1.18" />
<line x1="332.5" y1="297" x2="332.5" y2="337.5" stroke="#141414" stroke-width="1.18" />
<line x1="338.7" y1="297" x2="338.7" y2="337.5" stroke="#141414" stroke-width="1.18" />
<g transform="translate(370 428.7) rotate(-120)">
<ellipse cx="2" cy="0" rx="7.5" ry="6" fill="#fff" stroke="#141414" stroke-width="1.3" />
</g>
<g transform="translate(390 428.7) rotate(-60)">
<ellipse cx="2" cy="0" rx="7.5" ry="6" fill="#fff" stroke="#141414" stroke-width="1.3" />
</g>
<g transform="translate(360 447.5) rotate(180)">
<ellipse cx="2" cy="0" rx="7.5" ry="6" fill="#fff" stroke="#141414" stroke-width="1.3" />
</g>
<g transform="translate(402.5 447.5) rotate(0)">
<ellipse cx="2" cy="0" rx="7.5" ry="6" fill="#fff" stroke="#141414" stroke-width="1.3" />
</g>
<g transform="translate(370 466) rotate(120)">
<ellipse cx="2" cy="0" rx="7.5" ry="6" fill="#fff" stroke="#141414" stroke-width="1.3" />
</g>
<g transform="translate(390 466) rotate(60)">
<ellipse cx="2" cy="0" rx="7.5" ry="6" fill="#fff" stroke="#141414" stroke-width="1.3" />
</g>
<circle cx="380" cy="447.5" r="17.5" fill="#fff" stroke="#141414" stroke-width="1.3" />
<circle cx="380" cy="447.5" r="13.5" fill="none" stroke="#141414" stroke-width="1.06" stroke-dasharray="2 1.2"/>
<circle cx="380" cy="447.5" r="9.3" fill="none" stroke="#141414" stroke-width="1.3" />
<circle cx="380" cy="447.5" r="3" fill="none" stroke="#141414" stroke-width="1.06" />
<line x1="368" y1="447.5" x2="392" y2="447.5" stroke="#141414" stroke-width="1.18" />
<line x1="380" y1="436" x2="380" y2="459" stroke="#141414" stroke-width="1.18" />
<rect x="360" y="485" width="42.5" height="10" fill="#fff" stroke="#141414" stroke-width="1.3" />
<path d="M362 490 q8 -3 14 -1 t12 1 t12 -3" fill="none" stroke="#141414" stroke-width="1.06" />
<path d="M348.7 488.7 Q351.2 489.2 353.4 487.7 Q350.8 487.2 348.7 488.7 M348.7 488.7 Q350.6 491.4 353.8 492.1 Q351.9 489.4 348.7 488.7 M348.7 488.7 Q348.9 491.3 350.9 492.9 Q350.7 490.4 348.7 488.7 M348.7 488.7 Q346.8 491.6 347.5 494.9 Q349.3 492 348.7 488.7 M348.7 488.7 Q345.6 490 344.3 493.1 Q347.4 491.8 348.7 488.7 M348.7 488.7 Q346.4 487.5 343.9 488.4 Q346.2 489.5 348.7 488.7 M348.7 488.7 Q347.2 486.1 344.2 485.4 Q345.8 487.9 348.7 488.7 M348.7 488.7 Q348.8 485 346.3 482.2 Q346.2 485.9 348.7 488.7 M348.7 488.7 Q350 486.6 349.3 484.2 Q348 486.3 348.7 488.7 M348.7 488.7 Q351.7 488.6 353.7 486.4 Q350.7 486.5 348.7 488.7 " fill="#222" stroke="#141414" stroke-width="0.83" />
<circle cx="348.7" cy="488.7" r="0.9" fill="#999" stroke="#141414" stroke-width="0.71" />
<path d="M413.7 488.7 Q416.4 489.3 418.6 487.8 Q416 487.2 413.7 488.7 M413.7 488.7 Q415.9 491.5 419.4 492.1 Q417.2 489.3 413.7 488.7 M413.7 488.7 Q413.5 492 415.6 494.6 Q415.9 491.3 413.7 488.7 M413.7 488.7 Q412.2 491.4 412.9 494.4 Q414.5 491.7 413.7 488.7 M413.7 488.7 Q410.6 489 408.6 491.3 Q411.7 491.1 413.7 488.7 M413.7 488.7 Q410.7 486.8 407.2 487.4 Q410.2 489.3 413.7 488.7 M413.7 488.7 Q412.3 486.7 409.9 486.3 Q411.3 488.3 413.7 488.7 M413.7 488.7 Q414.2 486.1 412.7 484 Q412.2 486.6 413.7 488.7 M413.7 488.7 Q415.3 485.7 414.3 482.5 Q412.8 485.5 413.7 488.7 M413.7 488.7 Q417.2 488.4 419.5 485.7 Q416 486.1 413.7 488.7 " fill="#222" stroke="#141414" stroke-width="0.83" />
<circle cx="413.7" cy="488.7" r="0.9" fill="#999" stroke="#141414" stroke-width="0.71" />
<rect x="377.5" y="396" width="7.5" height="9" fill="#141414"/>
<rect x="420" y="396" width="6" height="9" fill="#141414"/>
<path d="M407.5 400 Q409.7 401 412 400.1 Q409.8 399.1 407.5 400 M407.5 400 Q408.3 402 410.3 402.7 Q409.5 400.7 407.5 400 M407.5 400 Q407.1 402.7 408.7 404.8 Q409.1 402.2 407.5 400 M407.5 400 Q405.9 401.2 405.7 403.3 Q407.4 402 407.5 400 M407.5 400 Q405.1 400.4 403.7 402.4 Q406.1 402 407.5 400 M407.5 400 Q404.9 398.9 402.4 400 Q404.9 401.1 407.5 400 M407.5 400 Q406.4 398 404.2 397.5 Q405.3 399.5 407.5 400 M407.5 400 Q408.2 397.6 407 395.5 Q406.3 397.9 407.5 400 M407.5 400 Q408.8 398.3 408.4 396.2 Q407.1 397.9 407.5 400 M407.5 400 Q409.4 399.6 410.3 398 Q408.4 398.3 407.5 400 " fill="#222" stroke="#141414" stroke-width="0.83" />
<circle cx="407.5" cy="400" r="0.9" fill="#999" stroke="#141414" stroke-width="0.71" />
<path d="M339.9 196.5V289M349.2 196.5V289M358.5 196.5V289M367.8 196.5V289M377.1 196.5V289M386.4 196.5V289M395.7 196.5V289M405 196.5V289M332 200.5H409.7M332 210H409.7M332 219.6H409.7M332 229.1H409.7M332 238.6H409.7M332 248.2H409.7M332 257.7H409.7M332 267.2H409.7M332 276.7H409.7M332 286.3H409.7" fill="none" stroke="#262626" stroke-width="1.12" />
<path d="M339.9 289V345M349.2 289V345M358.5 289V345M367.8 289V345M332 295.8H367.5M332 305.3H367.5M332 314.9H367.5M332 324.4H367.5M332 333.9H367.5M332 343.4H367.5" fill="none" stroke="#262626" stroke-width="1.12" />
<path d="M395.7 285V291M405 285V291M414.3 285V291M393.5 286.3H423" fill="none" stroke="#262626" stroke-width="1.12" />
<path d="M339.9 345V396M349.2 345V396M358.5 345V396M367.8 345V396M377.1 345V396M386.4 345V396M395.7 345V396M405 345V396M414.3 345V396M423.6 345V396M432.9 345V396M442.2 345V396M451.5 345V396M332 353H452M332 362.5H452M332 372H452M332 381.6H452M332 391.1H452" fill="none" stroke="#262626" stroke-width="1.12" />
<line x1="332" y1="396.3" x2="452" y2="396.3" stroke="#141414" stroke-width="1.18" />
<rect x="374" y="367" width="36" height="16" rx="4" fill="#fff" opacity="0.7"/>
<rect x="380" y="362" width="24" height="24" rx="5" fill="#fff" opacity="0.55"/>
<line x1="332" y1="197" x2="332" y2="396" stroke="#141414" stroke-width="1.18" />
<path d="M340.7 196.5 L409.7 196.5 L409.7 281 L422.5 281" fill="none" stroke="#141414" stroke-width="1.3" />
<path d="M394 187.7 L416 187.7 L416 236" fill="none" stroke="#141414" stroke-width="0.94" stroke-dasharray="2.2 2"/>
<rect x="353" y="182" width="15" height="13.5" fill="none" stroke="#141414" stroke-width="0.94" stroke-dasharray="2.2 2"/>
<line x1="353" y1="182" x2="368" y2="195.5" stroke="#141414" stroke-width="0.83" stroke-dasharray="2.2 2"/>
<line x1="353" y1="195.5" x2="368" y2="182" stroke="#141414" stroke-width="0.83" stroke-dasharray="2.2 2"/>
<rect x="370" y="183.5" width="17.8" height="10.5" fill="#fff" stroke="#141414" stroke-width="1.3" />
<rect x="371.5" y="185" width="6.5" height="7.8" fill="none" stroke="#141414" stroke-width="1.06" />
<rect x="380" y="185" width="6.5" height="7.8" fill="none" stroke="#141414" stroke-width="1.06" />
<circle cx="395" cy="189" r="3.6" fill="none" stroke="#141414" stroke-width="0.94" stroke-dasharray="2.2 2"/>
<text x="355" y="201.5" font-size="3" font-weight="bold" >Dw</text>
<text x="391" y="201.5" font-size="3" font-weight="bold" >Tc</text>
<circle cx="414" cy="206.5" r="1.9" fill="none" stroke="#141414" stroke-width="1.06" />
<circle cx="419" cy="206.5" r="1.9" fill="none" stroke="#141414" stroke-width="1.06" />
<circle cx="414" cy="214" r="1.9" fill="none" stroke="#141414" stroke-width="1.06" />
<circle cx="419" cy="214" r="1.9" fill="none" stroke="#141414" stroke-width="1.06" />
<circle cx="414" cy="221" r="1.9" fill="none" stroke="#141414" stroke-width="1.06" />
<circle cx="419" cy="221" r="1.9" fill="none" stroke="#141414" stroke-width="1.06" />
<text transform="translate(407 224) rotate(-90)" font-size="3.2" font-weight="bold">Cooktop</text>
<text transform="translate(407 252) rotate(-90)" font-size="3.2" font-weight="bold">Ovens</text>
<text transform="translate(407 277) rotate(-90)" font-size="3.2" font-weight="bold">Refrig</text>
<rect x="409.7" y="239" width="12.8" height="13.5" fill="none" stroke="#141414" stroke-width="1.06" />
<line x1="409.7" y1="239" x2="422.5" y2="252.5" stroke="#141414" stroke-width="0.96" />
<line x1="409.7" y1="252.5" x2="422.5" y2="239" stroke="#141414" stroke-width="0.96" />
<rect x="409.7" y="255.7" width="12.8" height="21.9" fill="none" stroke="#141414" stroke-width="1.06" />
<line x1="409.7" y1="255.7" x2="422.5" y2="277.6" stroke="#141414" stroke-width="0.96" />
<line x1="409.7" y1="277.6" x2="422.5" y2="255.7" stroke="#141414" stroke-width="0.96" />
<rect x="411.8" y="281" width="5.2" height="9" fill="none" stroke="#141414" stroke-width="1.06" />
<path d="M347.8 226.5 L380.2 226.5 L380.2 259 L358.2 259 L348 245.3 Z" fill="#fff" stroke="#141414" stroke-width="1.3" />
<path d="M354.6 226.5 L354.6 244.8 L362.4 252.1 L378 252.1" fill="none" stroke="#141414" stroke-width="1.18" />
<text x="361.5" y="232.3" font-size="3.2" font-weight="bold" >Island</text>
<g transform="translate(343.1 237) rotate(180)">
<path d="M-7.9 -6.2 L1.7 -6.2 A6.2 6.2 0 0 1 1.7 6.2 L-7.9 6.2 Z" fill="#fff" stroke="#141414" stroke-width="1.3" />
<path d="M-5.9 -3.8 L1.7 -3.8 A3.8 3.8 0 0 1 1.7 3.8 L-5.9 3.8" fill="none" stroke="#141414" stroke-width="1.06" />
</g>
<g transform="translate(351.2 256) rotate(135)">
<path d="M-7 -6.5 L0.5 -6.5 A6.5 6.5 0 0 1 0.5 6.5 L-7 6.5 Z" fill="#fff" stroke="#141414" stroke-width="1.3" />
<path d="M-5 -4 L0.5 -4 A4 4 0 0 1 0.5 4 L-5 4" fill="none" stroke="#141414" stroke-width="1.06" />
</g>
<g transform="translate(369.7 264.2) rotate(90)">
<path d="M-7.8 -6.3 L1.5 -6.3 A6.3 6.3 0 0 1 1.5 6.3 L-7.8 6.3 Z" fill="#fff" stroke="#141414" stroke-width="1.3" />
<path d="M-5.8 -3.8 L1.5 -3.8 A3.8 3.8 0 0 1 1.5 3.8 L-5.8 3.8" fill="none" stroke="#141414" stroke-width="1.06" />
</g>
<path d="M347.8 245 L347.8 226.5 L380.2 226.5 L380.2 259 L358.2 259" fill="none" stroke="#141414" stroke-width="1.3" />
<rect x="371" y="293" width="21.3" height="12" fill="#fff"/>
<path d="M370 306 L396.2 306" fill="none" stroke="#141414" stroke-width="3.39" />
<path d="M372 289.5 L377.3 283.5 L380.4 289.5 L384.6 283.5 L387.8 289.5" fill="none" stroke="#141414" stroke-width="1.18" />
<text x="376" y="300.5" font-size="3" font-weight="bold" >Pantry</text>
<rect x="392.7" y="289" width="3.5" height="18.6" fill="#141414"/>
<rect x="366.6" y="338" width="8.4" height="7" fill="#141414"/>
<rect x="412.5" y="333.3" width="7" height="11.7" fill="#141414"/>
<rect x="416" y="288.5" width="8" height="9.8" fill="#141414"/>
<rect x="398.7" y="292.8" width="15" height="3.5" fill="#fff" stroke="#141414" stroke-width="1.06" />
<path d="M400 296.3 C400 304 402.5 310 406.2 310 C410 310 412.5 304 412.5 296.3 Z" fill="#fff" stroke="#141414" stroke-width="1.3" />
<ellipse cx="377.5" cy="323.7" rx="4.5" ry="6.5" fill="none" stroke="#141414" stroke-width="1.3" />
<path d="M417.5 299 Q408 317 416 333.5 M406.6 329.8 L417 334.5" fill="none" stroke="#141414" stroke-width="1.18" />
<path d="M426 382.5 A25 24 0 0 1 451 358.7" fill="none" stroke="#141414" stroke-width="1.18" />
<line x1="426" y1="382.5" x2="451" y2="382.5" stroke="#141414" stroke-width="1.89" />
<text x="432" y="393.5" font-size="3" font-weight="bold" >Entry</text>
<rect x="427.5" y="397.2" width="20" height="5.3" fill="#fff" stroke="#141414" stroke-width="1.18" />
<line x1="424" y1="402.5" x2="450" y2="402.5" stroke="#141414" stroke-width="1.18" />
<path d="M436 189 Q438.6 189.9 441 188.7 Q438.5 187.8 436 189 M436 189 Q438.4 191.7 441.9 192.1 Q439.6 189.4 436 189 M436 189 Q435.7 192.3 437.7 194.9 Q438 191.6 436 189 M436 189 Q434 191.2 434.2 194.1 Q436.2 191.9 436 189 M436 189 Q432.9 189.4 430.9 192 Q434.1 191.5 436 189 M436 189 Q433.1 187.4 430 188.2 Q432.8 189.8 436 189 M436 189 Q434.8 186.2 432 185.1 Q433.2 187.9 436 189 M436 189 Q435.8 186.4 433.8 184.7 Q434 187.3 436 189 M436 189 Q437.9 187.2 438 184.5 Q436 186.3 436 189 M436 189 Q439.2 188.4 441.1 185.8 Q437.9 186.4 436 189 " fill="#222" stroke="#141414" stroke-width="0.83" />
<circle cx="436" cy="189" r="0.9" fill="#999" stroke="#141414" stroke-width="0.71" />
<g transform="translate(462.8 192.3) rotate(125)">
<circle cx="0" cy="0" r="10" fill="#fff" stroke="#141414" stroke-width="1.3" />
<circle cx="0" cy="0" r="8.4" fill="none" stroke="#141414" stroke-width="1.06" />
<path d="M-3.5 -5.5 L4.7 -5.5 Q8.6 0 4.7 5.5 L-3.5 5.5" fill="#fff" stroke="#141414" stroke-width="1.18" />
<line x1="-3.5" y1="-6.1" x2="-3.5" y2="6.1" stroke="#141414" stroke-width="1.89" />
</g>
<rect x="427.5" y="198.7" width="11.8" height="14" fill="#fff" stroke="#141414" stroke-width="1.18" />
<circle cx="433.4" cy="205.7" r="4.4" fill="none" stroke="#141414" stroke-width="1.18" />
<circle cx="433.4" cy="205.7" r="2" fill="none" stroke="#141414" stroke-width="1.06" />
<line x1="428" y1="205.7" x2="438.8" y2="205.7" stroke="#141414" stroke-width="0.94" />
<line x1="433.4" y1="200.3" x2="433.4" y2="211.1" stroke="#141414" stroke-width="0.94" />
<rect x="427.5" y="256.5" width="11.8" height="13.9" fill="#fff" stroke="#141414" stroke-width="1.18" />
<circle cx="433.4" cy="263.4" r="4.4" fill="none" stroke="#141414" stroke-width="1.18" />
<circle cx="433.4" cy="263.4" r="2" fill="none" stroke="#141414" stroke-width="1.06" />
<line x1="428" y1="263.4" x2="438.8" y2="263.4" stroke="#141414" stroke-width="0.94" />
<line x1="433.4" y1="258" x2="433.4" y2="268.9" stroke="#141414" stroke-width="0.94" />
<rect x="428.6" y="216.5" width="49.6" height="36.8" fill="#fff" stroke="#141414" stroke-width="1.18" stroke-dasharray="1.6 0.8"/>
<line x1="428.6" y1="216.5" x2="478.2" y2="216.5" stroke="#141414" stroke-width="1.3" />
<line x1="428.6" y1="216.5" x2="428.6" y2="253.3" stroke="#141414" stroke-width="1.3" />
<rect x="429.5" y="217.5" width="12" height="17" rx="2" fill="#fff" stroke="#141414" stroke-width="1"/>
<rect x="429.5" y="235.5" width="12" height="17" rx="2" fill="#fff" stroke="#141414" stroke-width="1"/>
<line x1="443.5" y1="216.5" x2="449" y2="253.3" stroke="#141414" stroke-width="1.06" />
<line x1="445.7" y1="216.5" x2="452.5" y2="253.3" stroke="#141414" stroke-width="1.06" />
<line x1="443" y1="216.5" x2="443" y2="253.3" stroke="#141414" stroke-width="1.06" />
<rect x="505.6" y="187" width="9.6" height="35.3" fill="#fff" stroke="#141414" stroke-width="1.3" />
<rect x="507" y="189" width="6.5" height="14" fill="none" stroke="#141414" stroke-width="1.06" />
<path d="M510.5 211 Q512.5 212 514.7 211.3 Q512.6 210.2 510.5 211 M510.5 211 Q512 213 514.5 213.3 Q513 211.3 510.5 211 M510.5 211 Q510 214 511.7 216.5 Q512.2 213.5 510.5 211 M510.5 211 Q508.7 212.5 508.5 214.8 Q510.3 213.3 510.5 211 M510.5 211 Q508.3 211.6 507.2 213.6 Q509.4 213 510.5 211 M510.5 211 Q507.8 210.2 505.3 211.6 Q508 212.4 510.5 211 M510.5 211 Q508.8 209.2 506.3 209.1 Q508 211 510.5 211 M510.5 211 Q510.9 208.1 509.2 205.8 Q508.8 208.7 510.5 211 M510.5 211 Q512.1 208.6 511.5 205.7 Q509.9 208.1 510.5 211 M510.5 211 Q512.8 210.8 514.1 209 Q511.9 209.2 510.5 211 " fill="#222" stroke="#141414" stroke-width="0.83" />
<circle cx="510.5" cy="211" r="0.9" fill="#999" stroke="#141414" stroke-width="0.71" />
<line x1="427" y1="289.3" x2="488" y2="289.3" stroke="#141414" stroke-width="1.42" stroke-dasharray="2 1.2"/>
<line x1="458.5" y1="289.5" x2="458.5" y2="297" stroke="#141414" stroke-width="1.06" />
<text x="450" y="287.3" font-size="3" font-weight="bold" >Closet</text>
<path d="M491.3 298 A25 25 0 0 1 516.3 273" fill="none" stroke="#141414" stroke-width="1.18" />
<rect x="519.5" y="181.5" width="35.8" height="18.5" fill="none" stroke="#141414" stroke-width="1.06" />
<line x1="519.5" y1="181.5" x2="555.3" y2="200" stroke="#141414" stroke-width="0.96" />
<line x1="519.5" y1="200" x2="555.3" y2="181.5" stroke="#141414" stroke-width="0.96" />
<line x1="519.5" y1="202" x2="555.3" y2="202" stroke="#141414" stroke-width="1.18" />
<rect x="563.2" y="181.5" width="46.3" height="18.5" fill="none" stroke="#141414" stroke-width="1.06" />
<line x1="574.5" y1="181.5" x2="574.5" y2="200" stroke="#141414" stroke-width="1.06" />
<line x1="574.5" y1="181.5" x2="609.5" y2="200" stroke="#141414" stroke-width="0.94" />
<line x1="574.5" y1="200" x2="609.5" y2="181.5" stroke="#141414" stroke-width="0.94" />
<line x1="563.2" y1="202" x2="609.5" y2="202" stroke="#141414" stroke-width="1.18" />
<rect x="554.2" y="202" width="20.3" height="5.3" fill="#141414"/>
<rect x="542.4" y="207.3" width="15" height="49.2" fill="none" stroke="#141414" stroke-width="1.18" />
<rect x="561.7" y="207.3" width="12.8" height="49.2" fill="none" stroke="#141414" stroke-width="1.18" />
<ellipse cx="550" cy="218" rx="4.3" ry="5.5" fill="none" stroke="#141414" stroke-width="1.3" />
<ellipse cx="567.8" cy="218" rx="4.3" ry="5.5" fill="none" stroke="#141414" stroke-width="1.3" />
<ellipse cx="550" cy="245.8" rx="4.3" ry="5.5" fill="none" stroke="#141414" stroke-width="1.3" />
<ellipse cx="567.8" cy="245.8" rx="4.3" ry="5.5" fill="none" stroke="#141414" stroke-width="1.3" />
<line x1="519" y1="228" x2="527" y2="228" stroke="#141414" stroke-width="1.77" />
<path d="M519 247 A19 19 0 0 0 538 228" fill="none" stroke="#141414" stroke-width="1.18" />
<path d="M611 236 A18.5 18.5 0 0 0 592.7 254.4" fill="none" stroke="#141414" stroke-width="1.18" />
<path d="M576.8 257.6 A17 17 0 0 0 593.8 274.6" fill="none" stroke="#141414" stroke-width="1.18" />
<line x1="538.2" y1="257.6" x2="538.2" y2="273.6" stroke="#141414" stroke-width="1.18" />
<path d="M538.2 273.6 A17 16 0 0 1 521 257.6" fill="none" stroke="#141414" stroke-width="1.18" />
<rect x="549.5" y="263" width="5" height="13.8" fill="#fff" stroke="#141414" stroke-width="1.06" />
<path d="M554.5 263.8 C562 262 568 266 568 270 C568 274 562 278 554.5 276 Z" fill="#fff" stroke="#141414" stroke-width="1.3" />
<rect x="525.3" y="294" width="10.7" height="3" fill="#fff" stroke="#141414" stroke-width="1.06" />
<path d="M526.3 294 C525.5 287 528 279.5 530.7 279.5 C533.5 279.5 536 287 535 294 Z" fill="#fff" stroke="#141414" stroke-width="1.3" />
<line x1="549" y1="289.6" x2="568" y2="289.6" stroke="#141414" stroke-width="1.3" stroke-dasharray="2 1.2"/>
<line x1="571" y1="288.6" x2="593" y2="288.6" stroke="#141414" stroke-width="1.18" stroke-dasharray="2 1.2"/>
<line x1="571" y1="290.6" x2="593" y2="290.6" stroke="#141414" stroke-width="1.18" stroke-dasharray="2 1.2"/>
<text x="552" y="296.5" font-size="3" font-weight="bold" >Linen</text>
<text x="574.5" y="296.5" font-size="3" font-weight="bold" >Coats</text>
<path d="M570 299 L585 314 L590 299" fill="none" stroke="#141414" stroke-width="1.18" />
<line x1="603.4" y1="259" x2="603.4" y2="298" stroke="#141414" stroke-width="1.3" stroke-dasharray="2 1.2"/>
<line x1="601.4" y1="259" x2="601.4" y2="298" stroke="#141414" stroke-width="0.94" stroke-dasharray="2 1.2"/>
<text transform="translate(608 282) rotate(-90)" font-size="3" font-weight="bold">Closet</text>
<rect x="613.5" y="184" width="9.5" height="38" fill="#fff" stroke="#141414" stroke-width="1.3" />
<rect x="615" y="186" width="6.5" height="14" fill="none" stroke="#141414" stroke-width="1.06" />
<path d="M618.5 213 Q621.2 213.8 623.7 212.4 Q621 211.6 618.5 213 M618.5 213 Q620.6 215.4 623.8 215.7 Q621.7 213.3 618.5 213 M618.5 213 Q618.6 215.9 620.7 217.8 Q620.6 215 618.5 213 M618.5 213 Q616.4 214.7 616.1 217.4 Q618.2 215.7 618.5 213 M618.5 213 Q615.4 213.1 613.3 215.4 Q616.4 215.2 618.5 213 M618.5 213 Q615.8 211.8 613 212.9 Q615.7 214.1 618.5 213 M618.5 213 Q617.2 210.7 614.6 210 Q615.9 212.3 618.5 213 M618.5 213 Q619.3 210.4 618 208 Q617.2 210.6 618.5 213 M618.5 213 Q621.1 211 621.5 207.8 Q619 209.8 618.5 213 M618.5 213 Q620.8 211.9 621.6 209.5 Q619.3 210.6 618.5 213 " fill="#222" stroke="#141414" stroke-width="0.83" />
<circle cx="618.5" cy="213" r="0.9" fill="#999" stroke="#141414" stroke-width="0.71" />
<g transform="translate(654 195.5) rotate(113)">
<rect x="-10.3" y="-9.2" width="20.6" height="18.5" rx="2.5" fill="#fff" stroke="#141414" stroke-width="1.1"/>
<path d="M10.3 -6.2 L-5.8 -5.5 L-5.8 5.5 L10.3 6.2" fill="none" stroke="#141414" stroke-width="1.18" />
<path d="M-4 -5 L-4 5 M-7.8 -6.8 L-7.8 6.8" fill="none" stroke="#141414" stroke-width="1.06" />
</g>
<path d="M686.5 188.2 Q688.6 189.7 691 189.2 Q689 187.7 686.5 188.2 M686.5 188.2 Q687.8 190.9 690.7 192 Q689.4 189.2 686.5 188.2 M686.5 188.2 Q685.7 191.1 687.2 193.6 Q687.9 190.8 686.5 188.2 M686.5 188.2 Q684.4 189.9 684.2 192.5 Q686.2 190.8 686.5 188.2 M686.5 188.2 Q683.5 188.3 681.5 190.4 Q684.4 190.3 686.5 188.2 M686.5 188.2 Q683.7 187.5 681.2 188.9 Q684 189.7 686.5 188.2 M686.5 188.2 Q685.3 186 683 185.3 Q684.1 187.5 686.5 188.2 M686.5 188.2 Q686.6 185.7 684.9 184 Q684.8 186.4 686.5 188.2 M686.5 188.2 Q687.8 185.9 687.1 183.3 Q685.8 185.6 686.5 188.2 M686.5 188.2 Q689.1 187.2 690.3 184.7 Q687.7 185.7 686.5 188.2 " fill="#222" stroke="#141414" stroke-width="0.83" />
<circle cx="686.5" cy="188.2" r="0.9" fill="#999" stroke="#141414" stroke-width="0.71" />
<rect x="682.4" y="199" width="10.8" height="14" fill="#fff" stroke="#141414" stroke-width="1.18" />
<circle cx="687.8" cy="206" r="3.9" fill="none" stroke="#141414" stroke-width="1.18" />
<circle cx="687.8" cy="206" r="1.8" fill="none" stroke="#141414" stroke-width="1.06" />
<line x1="682.9" y1="206" x2="692.7" y2="206" stroke="#141414" stroke-width="0.94" />
<line x1="687.8" y1="201.1" x2="687.8" y2="210.9" stroke="#141414" stroke-width="0.94" />
<rect x="682.4" y="258.5" width="10.8" height="13.5" fill="#fff" stroke="#141414" stroke-width="1.18" />
<circle cx="687.8" cy="265.2" r="3.9" fill="none" stroke="#141414" stroke-width="1.18" />
<circle cx="687.8" cy="265.2" r="1.8" fill="none" stroke="#141414" stroke-width="1.06" />
<line x1="682.9" y1="265.2" x2="692.7" y2="265.2" stroke="#141414" stroke-width="0.94" />
<line x1="687.8" y1="260.3" x2="687.8" y2="270.2" stroke="#141414" stroke-width="0.94" />
<rect x="644.6" y="218" width="47.4" height="36.4" fill="#fff" stroke="#141414" stroke-width="1.18" stroke-dasharray="1.6 0.8"/>
<line x1="644.6" y1="254.4" x2="692" y2="254.4" stroke="#141414" stroke-width="1.18" />
<line x1="692" y1="218" x2="692" y2="254.4" stroke="#141414" stroke-width="1.3" />
<rect x="680.5" y="219" width="11" height="17" rx="2" fill="#fff" stroke="#141414" stroke-width="1"/>
<rect x="680.5" y="236.5" width="11" height="17" rx="2" fill="#fff" stroke="#141414" stroke-width="1"/>
<line x1="674.3" y1="218" x2="669" y2="254.4" stroke="#141414" stroke-width="1.06" />
<line x1="677" y1="218" x2="673" y2="254.4" stroke="#141414" stroke-width="1.06" />
<line x1="679" y1="218" x2="679" y2="254.4" stroke="#141414" stroke-width="1.06" />
<path d="M673 273 Q675.7 274.3 678.5 273.3 Q675.8 272 673 273 M673 273 Q674.5 275.4 677.2 276 Q675.7 273.6 673 273 M673 273 Q672.3 275.5 673.6 277.8 Q674.3 275.3 673 273 M673 273 Q671 274.9 670.9 277.8 Q672.9 275.8 673 273 M673 273 Q670.9 273.1 669.6 274.7 Q671.7 274.6 673 273 M673 273 Q670 272.3 667.3 273.8 Q670.3 274.6 673 273 M673 273 Q672 270.9 669.8 270.1 Q670.8 272.3 673 273 M673 273 Q673.5 270.8 672.2 269 Q671.7 271.2 673 273 M673 273 Q674.5 271 674.2 268.5 Q672.6 270.5 673 273 M673 273 Q675.1 272.3 676 270.3 Q673.9 271 673 273 " fill="#222" stroke="#141414" stroke-width="0.83" />
<circle cx="673" cy="273" r="0.9" fill="#999" stroke="#141414" stroke-width="0.71" />
<line x1="616.2" y1="279" x2="616.2" y2="299" stroke="#141414" stroke-width="1.53" />
<path d="M616.2 280 A19 19 0 0 1 635.2 299" fill="none" stroke="#141414" stroke-width="1.18" />
<rect x="697.8" y="182.8" width="13" height="13.5" rx="2" fill="#fff" stroke="#141414" stroke-width="1"/>
<circle cx="704.3" cy="189.5" r="4.6" fill="none" stroke="#141414" stroke-width="1.18" />
<text x="702" y="190.5" font-size="2.6" font-weight="bold" >Wh</text>
<rect x="697.5" y="233.6" width="13.9" height="45.2" fill="none" stroke="#141414" stroke-width="1.06" stroke-dasharray="2.2 2"/>
<text transform="translate(706 262) rotate(-90)" font-size="3" font-weight="bold">Storage</text>
<circle cx="701" cy="202" r="0.8" fill="#141414" stroke="#141414" stroke-width="1.18" />
<rect x="770" y="178.5" width="16" height="4.1" fill="#fff"/>
<line x1="770" y1="179" x2="786" y2="179" stroke="#141414" stroke-width="1.06" />
<line x1="770" y1="182.4" x2="786" y2="182.4" stroke="#141414" stroke-width="1.06" />
<line x1="786.2" y1="181" x2="786.2" y2="199" stroke="#141414" stroke-width="1.42" />
<path d="M786.2 199 A17 18 0 0 1 770 182" fill="none" stroke="#141414" stroke-width="1.18" />
<path d="M646.9 298.1V331M656.4 298.1V331M666 298.1V331M675 298.1V331M684.6 298.1V331M694.1 298.1V331M703.1 298.1V331M639 298.1H707M639 307.7H707M639 317.2H707M639 325.7H707" fill="none" stroke="#1c1c1c" stroke-width="1.24" />
<line x1="639" y1="296.4" x2="671.6" y2="296.4" stroke="#141414" stroke-width="1.18" />
<line x1="652" y1="288.6" x2="671.6" y2="288.6" stroke="#141414" stroke-width="1.06" stroke-dasharray="2.5 1.5"/>
<rect x="641.2" y="283.5" width="10.8" height="10.7" rx="1.8" fill="#fff" stroke="#141414" stroke-width="1.1"/>
<circle cx="646.5" cy="288.5" r="0.8" fill="#141414" stroke="#141414" stroke-width="0.94" />
<rect x="671.6" y="282.5" width="18" height="15.6" fill="#fff" stroke="#141414" stroke-width="1.06" stroke-dasharray="2.2 2"/>
<line x1="671.6" y1="282.5" x2="689.6" y2="298.1" stroke="#141414" stroke-width="0.94" stroke-dasharray="2.2 2"/>
<line x1="671.6" y1="298.1" x2="689.6" y2="282.5" stroke="#141414" stroke-width="0.94" stroke-dasharray="2.2 2"/>
<rect x="689.6" y="282.5" width="18" height="15.6" fill="#fff" stroke="#141414" stroke-width="1.06" stroke-dasharray="2.2 2"/>
<line x1="689.6" y1="282.5" x2="707.6" y2="298.1" stroke="#141414" stroke-width="0.94" stroke-dasharray="2.2 2"/>
<line x1="689.6" y1="298.1" x2="707.6" y2="282.5" stroke="#141414" stroke-width="0.94" stroke-dasharray="2.2 2"/>
<line x1="671.6" y1="281" x2="671.6" y2="298.1" stroke="#141414" stroke-width="1.3" />
<path d="M638.8 310.7 A20 20 0 0 1 658.8 330.7" fill="none" stroke="#141414" stroke-width="1.18" />
<rect x="706.5" y="304" width="5" height="26.5" fill="#fff"/>
<line x1="707" y1="304" x2="707" y2="331" stroke="#141414" stroke-width="1.06" />
<line x1="711" y1="304" x2="711" y2="331" stroke="#141414" stroke-width="1.06" />
<path d="M693 313.9 L709.9 330.7 M693 313.9 A24 24 0 0 1 707.5 306.8" fill="none" stroke="#141414" stroke-width="1.42" />
<rect x="525" y="331" width="8.7" height="4.4" fill="#141414"/>
<line x1="535.4" y1="337" x2="535.4" y2="356" stroke="#141414" stroke-width="1.42" />
<line x1="570" y1="337" x2="570" y2="356" stroke="#141414" stroke-width="1.42" />
<path d="M535.4 355.6 A18 18 0 0 0 552.8 339 A18 18 0 0 0 570 355.6" fill="none" stroke="#141414" stroke-width="1.18" />
<path d="M587 343 Q589.7 344.1 592.3 343 Q589.7 341.9 587 343 M587 343 Q588 345.4 590.5 346.3 Q589.5 343.9 587 343 M587 343 Q587 346.1 589.2 348.2 Q589.1 345.2 587 343 M587 343 Q585.3 345 585.5 347.7 Q587.2 345.7 587 343 M587 343 Q584.5 343.7 583.2 346 Q585.7 345.3 587 343 M587 343 Q584.1 342.3 581.5 343.8 Q584.4 344.5 587 343 M587 343 Q585.9 340.2 583.1 338.9 Q584.2 341.8 587 343 M587 343 Q587.4 340.4 585.8 338.3 Q585.4 340.9 587 343 M587 343 Q588.5 341.1 588.2 338.7 Q586.7 340.6 587 343 M587 343 Q589.6 342.7 591.1 340.6 Q588.6 340.9 587 343 " fill="#222" stroke="#141414" stroke-width="0.83" />
<circle cx="587" cy="343" r="0.9" fill="#999" stroke="#141414" stroke-width="0.71" />
<rect x="582.5" y="338" width="28.3" height="11" fill="none" stroke="#141414" stroke-width="1.18" />
<path d="M593 349 L598 343 L610.8 341" fill="none" stroke="#141414" stroke-width="1.06" />
<rect x="614" y="338" width="28.2" height="15.2" fill="#fff" stroke="#141414" stroke-width="1.3" />
<rect x="618.4" y="343.5" width="19.6" height="8.5" fill="none" stroke="#141414" stroke-width="1.18" />
<path d="M620 343.5 l2 -3 h12 l2 3" fill="none" stroke="#141414" stroke-width="1.06" />
<rect x="645.5" y="338" width="29.3" height="15.2" fill="#fff" stroke="#141414" stroke-width="1.3" />
<rect x="664" y="339" width="10" height="11" fill="#fff" stroke="#141414" stroke-width="1.18" />
<circle cx="669" cy="344.5" r="3.5" fill="none" stroke="#141414" stroke-width="1.18" />
<circle cx="669" cy="344.5" r="1.6" fill="none" stroke="#141414" stroke-width="1.06" />
<line x1="664.5" y1="344.5" x2="673.5" y2="344.5" stroke="#141414" stroke-width="0.94" />
<line x1="669" y1="340" x2="669" y2="349" stroke="#141414" stroke-width="0.94" />
<g transform="translate(660 359.5) rotate(90)">
<path d="M-6.5 -6 L0.5 -6 A6 6 0 0 1 0.5 6 L-6.5 6 Z" fill="#fff" stroke="#141414" stroke-width="1.3" />
<path d="M-4.5 -3.5 L0.5 -3.5 A3.5 3.5 0 0 1 0.5 3.5 L-4.5 3.5" fill="none" stroke="#141414" stroke-width="1.06" />
</g>
<path d="M540.2 388 Q542.4 389.5 545 388.9 Q542.8 387.4 540.2 388 M540.2 388 Q541.1 390.6 543.6 391.8 Q542.7 389.2 540.2 388 M540.2 388 Q540 391.6 542.4 394.3 Q542.5 390.7 540.2 388 M540.2 388 Q538.4 390.5 538.8 393.5 Q540.6 391.1 540.2 388 M540.2 388 Q536.8 389.4 535.3 392.8 Q538.7 391.3 540.2 388 M540.2 388 Q538 386.5 535.4 387 Q537.6 388.5 540.2 388 M540.2 388 Q538.2 385.7 535.2 385.5 Q537.2 387.8 540.2 388 M540.2 388 Q540.5 384.6 538.3 381.9 Q538 385.3 540.2 388 M540.2 388 Q542.1 385.4 541.6 382.3 Q539.8 384.8 540.2 388 M540.2 388 Q542.7 387 543.8 384.5 Q541.2 385.5 540.2 388 " fill="#222" stroke="#141414" stroke-width="0.83" />
<circle cx="540.2" cy="388" r="0.9" fill="#999" stroke="#141414" stroke-width="0.71" />
<circle cx="554.3" cy="385.8" r="5.5" fill="#fff" stroke="#141414" stroke-width="1.3" />
<path d="M550 384 q4.5 -2.5 9 0" fill="none" stroke="#141414" stroke-width="0.94" />
<g transform="translate(563 402) rotate(-45)">
<circle cx="0" cy="0" r="10.3" fill="#fff" stroke="#141414" stroke-width="1.3" />
<circle cx="0" cy="0" r="8.7" fill="none" stroke="#141414" stroke-width="1.06" />
<path d="M-3.6 -5.7 L4.8 -5.7 Q8.8 0 4.8 5.7 L-3.6 5.7" fill="#fff" stroke="#141414" stroke-width="1.18" />
<line x1="-3.6" y1="-6.3" x2="-3.6" y2="6.3" stroke="#141414" stroke-width="1.89" />
</g>
<g transform="translate(574.7 392) rotate(42)">
<rect x="-6.8" y="-6" width="13.6" height="12" rx="1.5" fill="#fff" stroke="#141414" stroke-width="1.1"/>
</g>
<circle cx="577" cy="411.8" r="1.9" fill="none" stroke="#141414" stroke-width="1.18" />
<line x1="578" y1="410.3" x2="582.5" y2="403" stroke="#141414" stroke-width="2.12" />
<path d="M572.8 421.6 Q575 422.5 577.1 421.5 Q574.9 420.6 572.8 421.6 M572.8 421.6 Q573.7 424 576.1 425 Q575.2 422.6 572.8 421.6 M572.8 421.6 Q573.1 424.4 575.3 426.2 Q575 423.4 572.8 421.6 M572.8 421.6 Q571.6 423.5 572.3 425.7 Q573.4 423.8 572.8 421.6 M572.8 421.6 Q570.3 422.7 569.4 425.2 Q571.9 424.1 572.8 421.6 M572.8 421.6 Q570.5 420.2 567.9 420.9 Q570.2 422.3 572.8 421.6 M572.8 421.6 Q571 419.3 568 419 Q569.9 421.3 572.8 421.6 M572.8 421.6 Q573.4 419.3 572.1 417.2 Q571.5 419.6 572.8 421.6 M572.8 421.6 Q574.4 419.3 573.9 416.6 Q572.3 418.9 572.8 421.6 M572.8 421.6 Q575.8 421.5 577.9 419.3 Q574.9 419.4 572.8 421.6 " fill="#222" stroke="#141414" stroke-width="0.83" />
<circle cx="572.8" cy="421.6" r="0.9" fill="#999" stroke="#141414" stroke-width="0.71" />
<rect x="582.5" y="428" width="18.5" height="11" fill="#fff" stroke="#141414" stroke-width="1.18" />
<circle cx="591.8" cy="433.5" r="4" fill="none" stroke="#141414" stroke-width="1.18" />
<circle cx="591.8" cy="433.5" r="1.8" fill="none" stroke="#141414" stroke-width="1.06" />
<line x1="586.8" y1="433.5" x2="596.8" y2="433.5" stroke="#141414" stroke-width="0.94" />
<line x1="591.8" y1="428.5" x2="591.8" y2="438.5" stroke="#141414" stroke-width="0.94" />
<rect x="654.2" y="428" width="18.4" height="11" fill="#fff" stroke="#141414" stroke-width="1.18" />
<circle cx="663.4" cy="433.5" r="4" fill="none" stroke="#141414" stroke-width="1.18" />
<circle cx="663.4" cy="433.5" r="1.8" fill="none" stroke="#141414" stroke-width="1.06" />
<line x1="658.4" y1="433.5" x2="668.4" y2="433.5" stroke="#141414" stroke-width="0.94" />
<line x1="663.4" y1="428.5" x2="663.4" y2="438.5" stroke="#141414" stroke-width="0.94" />
<rect x="603.6" y="388" width="47.4" height="51" fill="#fff" stroke="#141414" stroke-width="1.18" stroke-dasharray="1.6 0.8"/>
<line x1="603.6" y1="388" x2="603.6" y2="439" stroke="#141414" stroke-width="1.3" />
<line x1="651" y1="388" x2="651" y2="439" stroke="#141414" stroke-width="1.3" />
<rect x="605.3" y="425" width="20.7" height="11.8" rx="2" fill="#fff" stroke="#141414" stroke-width="1"/>
<rect x="628.8" y="425" width="21" height="11.8" rx="2" fill="#fff" stroke="#141414" stroke-width="1"/>
<line x1="603.6" y1="420.5" x2="651" y2="413" stroke="#141414" stroke-width="1.06" />
<line x1="603.6" y1="423.8" x2="651" y2="423.8" stroke="#141414" stroke-width="1.06" />
<line x1="680" y1="341.3" x2="724" y2="341.3" stroke="#141414" stroke-width="1.3" stroke-dasharray="2 1.2"/>
<line x1="702.6" y1="335" x2="702.6" y2="343" stroke="#141414" stroke-width="1.06" />
<line x1="728" y1="346.7" x2="777.5" y2="346.7" stroke="#141414" stroke-width="1.18" />
<line x1="745" y1="335" x2="745" y2="346.7" stroke="#141414" stroke-width="1.06" />
<circle cx="765.5" cy="341" r="4.8" fill="none" stroke="#141414" stroke-width="1.3" />
<text x="730" y="341.5" font-size="2.8" font-weight="bold" >Vanity</text>
<rect x="730.4" y="345.6" width="11.2" height="9.8" rx="2" fill="#fff" stroke="#141414" stroke-width="1"/>
<path d="M783 341 A15.5 15.5 0 0 1 798.5 356.5" fill="none" stroke="#141414" stroke-width="1.18" />
<line x1="783" y1="341" x2="783" y2="357" stroke="#141414" stroke-width="1.18" />
<rect x="814.4" y="339" width="4.3" height="13" fill="#fff" stroke="#141414" stroke-width="1.06" />
<path d="M814.4 340 C808 338.5 802.4 342.5 802.4 345.5 C802.4 348.5 808 352.5 814.4 351 Z" fill="#fff" stroke="#141414" stroke-width="1.3" />
<rect x="807.2" y="358.5" width="12.3" height="39.2" fill="none" stroke="#141414" stroke-width="1.18" />
<ellipse cx="813.5" cy="378.2" rx="4.2" ry="5.6" fill="none" stroke="#141414" stroke-width="1.3" />
<path d="M779 398.8 L819.5 398.8 L819.5 439 L775.3 439 L775.3 403 Z" fill="#fff" stroke="#141414" stroke-width="1.3" />
<rect x="779.2" y="404.2" width="35.8" height="27.2" fill="none" stroke="#141414" stroke-width="1.18" />
<ellipse cx="797" cy="417.5" rx="16.5" ry="11" fill="none" stroke="#141414" stroke-width="1.3" />
<circle cx="785" cy="415" r="0.9" fill="#141414" stroke="#141414" stroke-width="1.18" />
<rect x="745.5" y="405.8" width="28.7" height="33.2" fill="none" stroke="#141414" stroke-width="1.06" />
<line x1="745.5" y1="405.8" x2="774.2" y2="439" stroke="#141414" stroke-width="0.96" />
<line x1="745.5" y1="439" x2="774.2" y2="405.8" stroke="#141414" stroke-width="0.96" />
<path d="M747 405.8 L758.6 393.4 A12 12 0 0 1 763.4 405.8" fill="none" stroke="#141414" stroke-width="1.18" />
<rect x="713.4" y="385.4" width="13" height="3" fill="#141414"/>
<line x1="696" y1="388" x2="696" y2="404" stroke="#141414" stroke-width="1.3" />
<path d="M696 404 A17 16 0 0 0 713.4 388" fill="none" stroke="#141414" stroke-width="1.18" />
<path d="M726.8 386 L726.8 402" fill="none" stroke="#141414" stroke-width="2.97" />
<path d="M725.4 401.3 L745 401.3" fill="none" stroke="#141414" stroke-width="2.76" />
<line x1="729" y1="391" x2="742" y2="391" stroke="#141414" stroke-width="1.06" stroke-dasharray="2 1"/>
<line x1="729" y1="394" x2="742" y2="394" stroke="#141414" stroke-width="1.06" stroke-dasharray="2 1"/>
<text x="730.5" y="399" font-size="2.8" font-weight="bold" >Linen</text>
<rect x="734" y="404.2" width="7.6" height="18.5" fill="none" stroke="#141414" stroke-width="1.18" />
<text transform="translate(739.3 421) rotate(-90)" font-size="3" font-weight="bold">Dresser</text>
<line x1="683.5" y1="390" x2="683.5" y2="449" stroke="#141414" stroke-width="1.18" stroke-dasharray="2 1.2"/>
<line x1="686" y1="390" x2="686" y2="449" stroke="#141414" stroke-width="1.06" stroke-dasharray="2 1.2"/>
<line x1="737" y1="424" x2="737" y2="449" stroke="#141414" stroke-width="1.18" stroke-dasharray="2 1.2"/>
<line x1="739.5" y1="424" x2="739.5" y2="449" stroke="#141414" stroke-width="1.06" stroke-dasharray="2 1.2"/>
<line x1="692.8" y1="442.5" x2="726.4" y2="442.5" stroke="#141414" stroke-width="1.89" stroke-dasharray="2.5 1"/>
<line x1="692.8" y1="442" x2="692.8" y2="450" stroke="#141414" stroke-width="1.18" />
<line x1="726.4" y1="442" x2="726.4" y2="450" stroke="#141414" stroke-width="1.18" />
<line x1="688" y1="411" x2="688" y2="417" stroke="#141414" stroke-width="1.06" />
<line x1="679" y1="414" x2="688" y2="414" stroke="#141414" stroke-width="1.06" />
<rect x="332.6" y="297" width="8" height="40.5" fill="#fff"/>
<line x1="332.8" y1="297" x2="332.8" y2="337.5" stroke="#141414" stroke-width="1.18" />
<line x1="340.4" y1="297" x2="340.4" y2="337.5" stroke="#141414" stroke-width="1.18" />
<rect x="332" y="289.5" width="9" height="7.5" fill="#141414"/>
<rect x="332" y="337.5" width="9" height="7.5" fill="#141414"/>
<g transform="translate(145.9 219.3) rotate(45)">
<rect x="-5.2" y="-5.2" width="10.4" height="10.4" rx="1.5" fill="#fff" stroke="#141414" stroke-width="1.3"/>
</g>
<g transform="translate(169.5 219.3) rotate(45)">
<rect x="-5.2" y="-5.2" width="10.4" height="10.4" rx="1.5" fill="#fff" stroke="#141414" stroke-width="1.3"/>
</g>
<g transform="translate(145.9 243.9) rotate(45)">
<rect x="-5.2" y="-5.2" width="10.4" height="10.4" rx="1.5" fill="#fff" stroke="#141414" stroke-width="1.3"/>
</g>
<g transform="translate(169.5 243.9) rotate(45)">
<rect x="-5.2" y="-5.2" width="10.4" height="10.4" rx="1.5" fill="#fff" stroke="#141414" stroke-width="1.3"/>
</g>
<g transform="translate(145.9 219.3) rotate(45)">
</g>
<g transform="translate(169.5 219.3) rotate(-45)">
</g>
<g transform="translate(145.9 243.9) rotate(-45)">
</g>
<g transform="translate(169.5 243.9) rotate(45)">
</g>
<line x1="141" y1="221.6" x2="148.2" y2="214.4" stroke="#141414" stroke-width="1.42" />
<line x1="167.2" y1="214.4" x2="174.4" y2="221.6" stroke="#141414" stroke-width="1.42" />
<line x1="141" y1="241.6" x2="148.2" y2="248.8" stroke="#141414" stroke-width="1.42" />
<line x1="167.2" y1="248.8" x2="174.4" y2="241.6" stroke="#141414" stroke-width="1.42" />
<circle cx="157.5" cy="231.3" r="12.3" fill="#fff" stroke="#141414" stroke-width="1.53" />
<path d="M157.5 221.5 L167.3 231.3 L157.5 241.1 L147.7 231.3 Z" fill="none" stroke="#141414" stroke-width="0.94" stroke-dasharray="1.6 1.2"/>
<path d="M153.5 229 l6 2.5 M154 232 l7 1 M156 228 l4 6" fill="none" stroke="#141414" stroke-width="1.3" />
<text x="652.9" y="59.6" font-size="11.5" textLength="22.3" lengthAdjust="spacingAndGlyphs" style="stroke-width:0.4px">THE</text>
<text x="681.7" y="67.8" font-size="21.2" textLength="184.5" lengthAdjust="spacingAndGlyphs" style="stroke-width:0.6px">BOUGAINVILLEA 2</text>
<text x="665.8" y="85.4" font-size="13" textLength="114.8" lengthAdjust="spacingAndGlyphs" style="stroke-width:0.35px">2,742 Square Feet</text>
<text x="379" y="148.2" font-size="11.8" textLength="102" lengthAdjust="spacingAndGlyphs" >PRIVATE SIDE YARD</text>
<text x="755" y="152.2" font-size="11.8" textLength="77" lengthAdjust="spacingAndGlyphs" >SERVICE AREA</text>
<text x="239.7" y="281.2" font-size="11.8" textLength="70.9" lengthAdjust="spacingAndGlyphs" >FAMILY ROOM</text>
<text x="240.6" y="363.7" font-size="11.8" textLength="69.1" lengthAdjust="spacingAndGlyphs" >GREAT ROOM</text>
<text x="217" y="315.6" font-size="11.8" textLength="20.2" lengthAdjust="spacingAndGlyphs" >BAR</text>
<text x="365" y="418.2" font-size="11.8" textLength="36" lengthAdjust="spacingAndGlyphs" >DINING</text>
<text x="387" y="330.2" font-size="11.8" textLength="46" lengthAdjust="spacingAndGlyphs" >POWDER</text>
<text x="440" y="263.2" font-size="11.8" textLength="68" lengthAdjust="spacingAndGlyphs" >BEDROOM 3/</text>
<text x="463" y="277.2" font-size="11.8" textLength="22" lengthAdjust="spacingAndGlyphs" >DEN</text>
<text transform="translate(538.2 250) rotate(-90)" font-size="11.8" textLength="36" lengthAdjust="spacingAndGlyphs">BATH 3</text>
<text transform="translate(588.2 250) rotate(-90)" font-size="11.8" textLength="36" lengthAdjust="spacingAndGlyphs">BATH 2</text>
<text x="613" y="266.2" font-size="11.8" textLength="63" lengthAdjust="spacingAndGlyphs" >BEDROOM 2</text>
<text x="766" y="255.2" font-size="11.8" textLength="45" lengthAdjust="spacingAndGlyphs" >GARAGE</text>
<text x="645" y="315.2" font-size="11.8" textLength="52" lengthAdjust="spacingAndGlyphs" >LAUNDRY</text>
<text x="517" y="323.2" font-size="11.8" textLength="27" lengthAdjust="spacingAndGlyphs" >HALL</text>
<text x="567" y="378.2" font-size="11.8" textLength="101" lengthAdjust="spacingAndGlyphs" >MASTER BEDROOM</text>
<text x="682" y="355.3" font-size="12" textLength="40" lengthAdjust="spacingAndGlyphs" >CLOSET</text>
<text x="758" y="381.2" font-size="11.8" textLength="42" lengthAdjust="spacingAndGlyphs" >M. BATH</text>
<text x="837" y="396.2" font-size="11.8" textLength="56" lengthAdjust="spacingAndGlyphs" font-style="italic">GOLF CART</text>
<text x="688" y="418.2" font-size="11.8" textLength="43" lengthAdjust="spacingAndGlyphs" >WALK IN</text>
<text x="689" y="431.2" font-size="11.8" textLength="40" lengthAdjust="spacingAndGlyphs" >CLOSET</text>
<text x="626" y="497.2" font-size="11.8" textLength="146" lengthAdjust="spacingAndGlyphs" >PRIVATE COURTYARD ENTRY</text>
<text x="276" y="525.2" font-size="11.8" textLength="101" lengthAdjust="spacingAndGlyphs" >PRIVATE SIDE YARD</text>
</svg>
</body></html>
